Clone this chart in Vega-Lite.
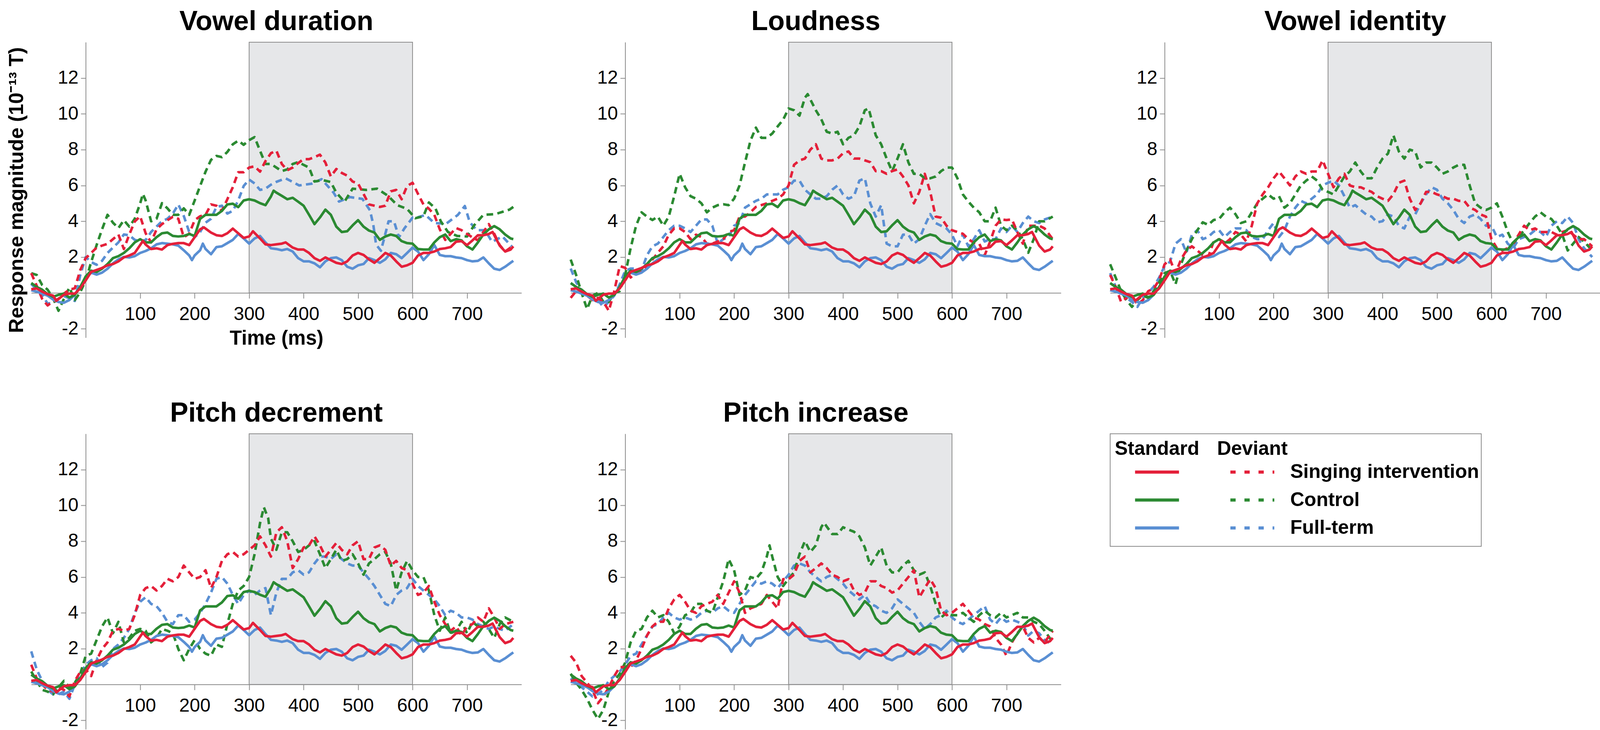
{
  "$schema": "https://vega.github.io/schema/vega-lite/v6.json",
  "background": "white",
  "padding": {"left": 16, "top": 21, "right": 0, "bottom": 0},
  "config": {
    "font": "Liberation Sans",
    "view": {"stroke": null},
    "axis": {
      "grid": false,
      "domainColor": "#8c8c8c",
      "domainWidth": 2,
      "tickColor": "#8c8c8c",
      "tickWidth": 2,
      "labelColor": "#000000",
      "labelFont": "Liberation Sans",
      "labelFontSize": 48,
      "labelExpr": "'' + datum.value",
      "titleColor": "#000000",
      "titleFont": "Liberation Sans",
      "titleFontSize": 51,
      "titleFontWeight": "bold"
    },
    "axisX": {"tickSize": 14, "labelPadding": 17},
    "axisY": {"tickSize": 12.6, "labelPadding": 6.3},
    "title": {"font": "Liberation Sans", "fontSize": 70, "fontWeight": "bold", "color": "#000000", "anchor": "middle", "frame": "group", "offset": 15},
    "line": {"strokeWidth": 6.5, "strokeJoin": "round"}
  },
  "datasets": {
    "std": [
      {"g":"F","t":-100,"v":0.15},{"g":"F","t":-90,"v":0.07},{"g":"F","t":-80,"v":-0.04},{"g":"F","t":-70,"v":-0.15},{"g":"F","t":-60,"v":-0.37},{"g":"F","t":-50,"v":-0.51},{"g":"F","t":-40,"v":-0.55},{"g":"F","t":-30,"v":-0.4},{"g":"F","t":-20,"v":-0.1},{"g":"F","t":-10,"v":0.33},{"g":"F","t":0,"v":0.84},{"g":"F","t":10,"v":1.13},{"g":"F","t":20,"v":1.02},{"g":"F","t":30,"v":1.13},{"g":"F","t":40,"v":1.35},{"g":"F","t":50,"v":1.65},{"g":"F","t":60,"v":1.87},{"g":"F","t":70,"v":2.01},{"g":"F","t":80,"v":1.98},{"g":"F","t":90,"v":2.05},{"g":"F","t":100,"v":2.23},{"g":"F","t":110,"v":2.34},{"g":"F","t":120,"v":2.49},{"g":"F","t":130,"v":2.71},{"g":"F","t":140,"v":2.78},{"g":"F","t":150,"v":2.75},{"g":"F","t":160,"v":2.71},{"g":"F","t":170,"v":2.64},{"g":"F","t":180,"v":2.38},{"g":"F","t":190,"v":2.09},{"g":"F","t":195,"v":1.83},{"g":"F","t":200,"v":2.09},{"g":"F","t":210,"v":2.38},{"g":"F","t":215,"v":2.75},{"g":"F","t":220,"v":2.45},{"g":"F","t":230,"v":2.16},{"g":"F","t":240,"v":2.56},{"g":"F","t":250,"v":2.6},{"g":"F","t":260,"v":2.78},{"g":"F","t":270,"v":2.96},{"g":"F","t":280,"v":3.29},{"g":"F","t":290,"v":3.04},{"g":"F","t":300,"v":2.75},{"g":"F","t":310,"v":3.04},{"g":"F","t":320,"v":3.18},{"g":"F","t":330,"v":2.82},{"g":"F","t":340,"v":2.49},{"g":"F","t":350,"v":2.45},{"g":"F","t":360,"v":2.38},{"g":"F","t":370,"v":2.45},{"g":"F","t":380,"v":2.31},{"g":"F","t":390,"v":1.94},{"g":"F","t":400,"v":1.76},{"g":"F","t":410,"v":1.76},{"g":"F","t":420,"v":1.65},{"g":"F","t":430,"v":1.43},{"g":"F","t":440,"v":1.76},{"g":"F","t":450,"v":1.94},{"g":"F","t":460,"v":1.98},{"g":"F","t":470,"v":1.83},{"g":"F","t":480,"v":1.46},{"g":"F","t":490,"v":1.35},{"g":"F","t":500,"v":1.54},{"g":"F","t":510,"v":1.61},{"g":"F","t":520,"v":1.94},{"g":"F","t":530,"v":1.83},{"g":"F","t":540,"v":1.68},{"g":"F","t":550,"v":1.87},{"g":"F","t":560,"v":2.23},{"g":"F","t":570,"v":2.16},{"g":"F","t":580,"v":1.94},{"g":"F","t":590,"v":2.23},{"g":"F","t":600,"v":2.53},{"g":"F","t":610,"v":2.31},{"g":"F","t":620,"v":1.83},{"g":"F","t":630,"v":2.16},{"g":"F","t":640,"v":2.67},{"g":"F","t":650,"v":2.12},{"g":"F","t":660,"v":2.05},{"g":"F","t":670,"v":2.05},{"g":"F","t":680,"v":1.98},{"g":"F","t":690,"v":1.94},{"g":"F","t":700,"v":1.83},{"g":"F","t":710,"v":1.76},{"g":"F","t":720,"v":1.79},{"g":"F","t":730,"v":1.98},{"g":"F","t":740,"v":1.65},{"g":"F","t":750,"v":1.35},{"g":"F","t":760,"v":1.28},{"g":"F","t":770,"v":1.46},{"g":"F","t":780,"v":1.68},{"g":"F","t":785,"v":1.79},
      {"g":"C","t":-100,"v":0.55},{"g":"C","t":-90,"v":0.33},{"g":"C","t":-80,"v":0.18},{"g":"C","t":-70,"v":-0.07},{"g":"C","t":-60,"v":-0.22},{"g":"C","t":-50,"v":-0.11},{"g":"C","t":-40,"v":-0.04},{"g":"C","t":-30,"v":-0.26},{"g":"C","t":-20,"v":-0.11},{"g":"C","t":-10,"v":0.33},{"g":"C","t":0,"v":0.92},{"g":"C","t":10,"v":1.24},{"g":"C","t":20,"v":1.17},{"g":"C","t":30,"v":1.35},{"g":"C","t":40,"v":1.61},{"g":"C","t":50,"v":1.94},{"g":"C","t":60,"v":2.05},{"g":"C","t":70,"v":2.23},{"g":"C","t":80,"v":2.49},{"g":"C","t":90,"v":2.82},{"g":"C","t":100,"v":3.0},{"g":"C","t":110,"v":2.82},{"g":"C","t":120,"v":2.82},{"g":"C","t":130,"v":3.11},{"g":"C","t":140,"v":3.33},{"g":"C","t":150,"v":3.37},{"g":"C","t":160,"v":3.18},{"g":"C","t":170,"v":3.15},{"g":"C","t":180,"v":3.18},{"g":"C","t":190,"v":3.29},{"g":"C","t":200,"v":3.18},{"g":"C","t":210,"v":4.14},{"g":"C","t":220,"v":4.36},{"g":"C","t":230,"v":4.36},{"g":"C","t":240,"v":4.36},{"g":"C","t":250,"v":4.58},{"g":"C","t":260,"v":4.94},{"g":"C","t":270,"v":4.98},{"g":"C","t":280,"v":4.79},{"g":"C","t":290,"v":5.16},{"g":"C","t":300,"v":5.23},{"g":"C","t":310,"v":5.16},{"g":"C","t":320,"v":5.01},{"g":"C","t":330,"v":4.9},{"g":"C","t":340,"v":5.38},{"g":"C","t":345,"v":5.71},{"g":"C","t":350,"v":5.6},{"g":"C","t":360,"v":5.42},{"g":"C","t":370,"v":5.23},{"g":"C","t":380,"v":5.31},{"g":"C","t":390,"v":5.09},{"g":"C","t":400,"v":4.87},{"g":"C","t":410,"v":4.36},{"g":"C","t":420,"v":3.84},{"g":"C","t":430,"v":4.21},{"g":"C","t":440,"v":4.65},{"g":"C","t":450,"v":4.36},{"g":"C","t":460,"v":3.7},{"g":"C","t":470,"v":3.4},{"g":"C","t":480,"v":3.44},{"g":"C","t":490,"v":3.77},{"g":"C","t":500,"v":4.06},{"g":"C","t":510,"v":3.7},{"g":"C","t":520,"v":3.48},{"g":"C","t":530,"v":3.37},{"g":"C","t":540,"v":2.96},{"g":"C","t":550,"v":3.15},{"g":"C","t":560,"v":3.26},{"g":"C","t":570,"v":3.18},{"g":"C","t":580,"v":2.89},{"g":"C","t":590,"v":2.78},{"g":"C","t":600,"v":2.75},{"g":"C","t":610,"v":2.45},{"g":"C","t":620,"v":2.42},{"g":"C","t":630,"v":2.42},{"g":"C","t":640,"v":2.82},{"g":"C","t":650,"v":3.11},{"g":"C","t":660,"v":3.26},{"g":"C","t":670,"v":2.89},{"g":"C","t":680,"v":3.0},{"g":"C","t":690,"v":2.93},{"g":"C","t":700,"v":2.6},{"g":"C","t":710,"v":2.42},{"g":"C","t":720,"v":2.82},{"g":"C","t":730,"v":3.26},{"g":"C","t":740,"v":3.55},{"g":"C","t":750,"v":3.73},{"g":"C","t":760,"v":3.55},{"g":"C","t":770,"v":3.26},{"g":"C","t":780,"v":3.04},{"g":"C","t":785,"v":3.0},
      {"g":"S","t":-100,"v":0.2},{"g":"S","t":-90,"v":0.25},{"g":"S","t":-80,"v":0.07},{"g":"S","t":-70,"v":-0.07},{"g":"S","t":-60,"v":-0.15},{"g":"S","t":-54,"v":-0.44},{"g":"S","t":-40,"v":-0.1},{"g":"S","t":-30,"v":-0.04},{"g":"S","t":-20,"v":-0.04},{"g":"S","t":-10,"v":0.25},{"g":"S","t":0,"v":0.7},{"g":"S","t":10,"v":1.17},{"g":"S","t":20,"v":1.28},{"g":"S","t":30,"v":1.39},{"g":"S","t":40,"v":1.54},{"g":"S","t":50,"v":1.61},{"g":"S","t":60,"v":1.76},{"g":"S","t":70,"v":1.98},{"g":"S","t":80,"v":2.09},{"g":"S","t":90,"v":2.23},{"g":"S","t":105,"v":2.9},{"g":"S","t":110,"v":2.7},{"g":"S","t":120,"v":2.45},{"g":"S","t":130,"v":2.49},{"g":"S","t":140,"v":2.42},{"g":"S","t":150,"v":2.67},{"g":"S","t":160,"v":2.74},{"g":"S","t":170,"v":2.78},{"g":"S","t":180,"v":2.78},{"g":"S","t":190,"v":2.67},{"g":"S","t":200,"v":3.11},{"g":"S","t":210,"v":3.55},{"g":"S","t":217,"v":3.66},{"g":"S","t":230,"v":3.37},{"g":"S","t":240,"v":3.22},{"g":"S","t":250,"v":3.18},{"g":"S","t":260,"v":3.33},{"g":"S","t":270,"v":3.59},{"g":"S","t":280,"v":3.33},{"g":"S","t":290,"v":3.07},{"g":"S","t":300,"v":3.15},{"g":"S","t":307,"v":3.44},{"g":"S","t":320,"v":3.04},{"g":"S","t":330,"v":2.71},{"g":"S","t":340,"v":2.67},{"g":"S","t":350,"v":2.71},{"g":"S","t":360,"v":2.75},{"g":"S","t":367,"v":2.82},{"g":"S","t":380,"v":2.53},{"g":"S","t":390,"v":2.42},{"g":"S","t":400,"v":2.42},{"g":"S","t":410,"v":2.23},{"g":"S","t":420,"v":1.94},{"g":"S","t":430,"v":1.79},{"g":"S","t":440,"v":1.98},{"g":"S","t":450,"v":1.83},{"g":"S","t":460,"v":1.68},{"g":"S","t":470,"v":1.61},{"g":"S","t":480,"v":1.76},{"g":"S","t":490,"v":2.09},{"g":"S","t":500,"v":2.23},{"g":"S","t":510,"v":2.12},{"g":"S","t":520,"v":1.87},{"g":"S","t":530,"v":1.68},{"g":"S","t":540,"v":1.94},{"g":"S","t":550,"v":2.23},{"g":"S","t":560,"v":2.09},{"g":"S","t":570,"v":1.76},{"g":"S","t":580,"v":1.46},{"g":"S","t":590,"v":1.54},{"g":"S","t":600,"v":1.68},{"g":"S","t":610,"v":2.09},{"g":"S","t":620,"v":2.23},{"g":"S","t":630,"v":2.23},{"g":"S","t":640,"v":2.31},{"g":"S","t":650,"v":2.45},{"g":"S","t":660,"v":2.49},{"g":"S","t":670,"v":2.56},{"g":"S","t":680,"v":2.86},{"g":"S","t":690,"v":2.89},{"g":"S","t":700,"v":2.67},{"g":"S","t":710,"v":2.93},{"g":"S","t":720,"v":3.22},{"g":"S","t":730,"v":3.22},{"g":"S","t":740,"v":3.29},{"g":"S","t":747,"v":3.4},{"g":"S","t":760,"v":2.64},{"g":"S","t":770,"v":2.31},{"g":"S","t":780,"v":2.42},{"g":"S","t":785,"v":2.6}
    ],
    "dev": [
      {"p":"VD","g":"F","t":-100,"v":0.5},{"p":"VD","g":"F","t":-90,"v":0.18},{"p":"VD","g":"F","t":-80,"v":-0.1},{"p":"VD","g":"F","t":-70,"v":-0.6},{"p":"VD","g":"F","t":-60,"v":-0.55},{"p":"VD","g":"F","t":-50,"v":-0.33},{"p":"VD","g":"F","t":-40,"v":-0.18},{"p":"VD","g":"F","t":-30,"v":-0.3},{"p":"VD","g":"F","t":-20,"v":-0.45},{"p":"VD","g":"F","t":-10,"v":1.0},{"p":"VD","g":"F","t":0,"v":2.0},{"p":"VD","g":"F","t":10,"v":1.72},{"p":"VD","g":"F","t":20,"v":1.57},{"p":"VD","g":"F","t":30,"v":1.79},{"p":"VD","g":"F","t":40,"v":2.23},{"p":"VD","g":"F","t":50,"v":2.53},{"p":"VD","g":"F","t":60,"v":2.82},{"p":"VD","g":"F","t":70,"v":3.26},{"p":"VD","g":"F","t":80,"v":3.22},{"p":"VD","g":"F","t":90,"v":2.96},{"p":"VD","g":"F","t":100,"v":2.89},{"p":"VD","g":"F","t":110,"v":2.95},{"p":"VD","g":"F","t":120,"v":3.4},{"p":"VD","g":"F","t":130,"v":3.7},{"p":"VD","g":"F","t":140,"v":4.0},{"p":"VD","g":"F","t":150,"v":4.14},{"p":"VD","g":"F","t":160,"v":4.43},{"p":"VD","g":"F","t":170,"v":4.94},{"p":"VD","g":"F","t":180,"v":4.3},{"p":"VD","g":"F","t":190,"v":3.4},{"p":"VD","g":"F","t":200,"v":3.11},{"p":"VD","g":"F","t":210,"v":3.4},{"p":"VD","g":"F","t":220,"v":3.92},{"p":"VD","g":"F","t":230,"v":4.14},{"p":"VD","g":"F","t":240,"v":4.8},{"p":"VD","g":"F","t":250,"v":4.87},{"p":"VD","g":"F","t":260,"v":4.43},{"p":"VD","g":"F","t":270,"v":4.58},{"p":"VD","g":"F","t":280,"v":5.16},{"p":"VD","g":"F","t":290,"v":5.97},{"p":"VD","g":"F","t":300,"v":6.33},{"p":"VD","g":"F","t":310,"v":6.11},{"p":"VD","g":"F","t":320,"v":5.75},{"p":"VD","g":"F","t":330,"v":5.82},{"p":"VD","g":"F","t":340,"v":6.04},{"p":"VD","g":"F","t":350,"v":6.2},{"p":"VD","g":"F","t":367,"v":6.4},{"p":"VD","g":"F","t":392,"v":6.0},{"p":"VD","g":"F","t":415,"v":6.1},{"p":"VD","g":"F","t":433,"v":6.35},{"p":"VD","g":"F","t":455,"v":5.6},{"p":"VD","g":"F","t":465,"v":5.1},{"p":"VD","g":"F","t":485,"v":5.35},{"p":"VD","g":"F","t":508,"v":5.25},{"p":"VD","g":"F","t":522,"v":4.6},{"p":"VD","g":"F","t":528,"v":3.8},{"p":"VD","g":"F","t":533,"v":2.7},{"p":"VD","g":"F","t":542,"v":2.35},{"p":"VD","g":"F","t":556,"v":4.0},{"p":"VD","g":"F","t":566,"v":4.0},{"p":"VD","g":"F","t":575,"v":3.1},{"p":"VD","g":"F","t":585,"v":3.6},{"p":"VD","g":"F","t":600,"v":4.2},{"p":"VD","g":"F","t":607,"v":4.2},{"p":"VD","g":"F","t":624,"v":4.35},{"p":"VD","g":"F","t":640,"v":3.9},{"p":"VD","g":"F","t":662,"v":3.87},{"p":"VD","g":"F","t":683,"v":4.35},{"p":"VD","g":"F","t":696,"v":4.85},{"p":"VD","g":"F","t":705,"v":3.95},{"p":"VD","g":"F","t":718,"v":3.5},{"p":"VD","g":"F","t":733,"v":3.5},{"p":"VD","g":"F","t":746,"v":2.85},{"p":"VD","g":"F","t":765,"v":3.15},{"p":"VD","g":"F","t":782,"v":2.6},
      {"p":"VD","g":"C","t":-100,"v":1.1},{"p":"VD","g":"C","t":-90,"v":1.0},{"p":"VD","g":"C","t":-80,"v":0.44},{"p":"VD","g":"C","t":-70,"v":0.18},{"p":"VD","g":"C","t":-60,"v":-0.29},{"p":"VD","g":"C","t":-50,"v":-1.0},{"p":"VD","g":"C","t":-40,"v":-0.33},{"p":"VD","g":"C","t":-30,"v":0.3},{"p":"VD","g":"C","t":-20,"v":-0.4},{"p":"VD","g":"C","t":-10,"v":0.04},{"p":"VD","g":"C","t":0,"v":0.7},{"p":"VD","g":"C","t":10,"v":1.72},{"p":"VD","g":"C","t":20,"v":2.67},{"p":"VD","g":"C","t":30,"v":3.55},{"p":"VD","g":"C","t":40,"v":4.36},{"p":"VD","g":"C","t":50,"v":3.92},{"p":"VD","g":"C","t":60,"v":3.62},{"p":"VD","g":"C","t":70,"v":4.06},{"p":"VD","g":"C","t":80,"v":3.7},{"p":"VD","g":"C","t":90,"v":4.14},{"p":"VD","g":"C","t":100,"v":5.0},{"p":"VD","g":"C","t":105,"v":5.53},{"p":"VD","g":"C","t":110,"v":5.16},{"p":"VD","g":"C","t":120,"v":4.0},{"p":"VD","g":"C","t":130,"v":4.14},{"p":"VD","g":"C","t":140,"v":5.01},{"p":"VD","g":"C","t":150,"v":4.72},{"p":"VD","g":"C","t":160,"v":4.36},{"p":"VD","g":"C","t":170,"v":4.36},{"p":"VD","g":"C","t":180,"v":4.72},{"p":"VD","g":"C","t":190,"v":4.36},{"p":"VD","g":"C","t":200,"v":5.16},{"p":"VD","g":"C","t":210,"v":5.97},{"p":"VD","g":"C","t":220,"v":6.77},{"p":"VD","g":"C","t":230,"v":7.43},{"p":"VD","g":"C","t":240,"v":7.65},{"p":"VD","g":"C","t":250,"v":7.58},{"p":"VD","g":"C","t":260,"v":7.87},{"p":"VD","g":"C","t":270,"v":8.3},{"p":"VD","g":"C","t":280,"v":8.5},{"p":"VD","g":"C","t":290,"v":8.27},{"p":"VD","g":"C","t":300,"v":8.53},{"p":"VD","g":"C","t":310,"v":8.7},{"p":"VD","g":"C","t":320,"v":7.94},{"p":"VD","g":"C","t":330,"v":7.2},{"p":"VD","g":"C","t":340,"v":7.2},{"p":"VD","g":"C","t":350,"v":7.0},{"p":"VD","g":"C","t":360,"v":6.8},{"p":"VD","g":"C","t":370,"v":6.9},{"p":"VD","g":"C","t":380,"v":7.2},{"p":"VD","g":"C","t":390,"v":7.3},{"p":"VD","g":"C","t":400,"v":7.15},{"p":"VD","g":"C","t":410,"v":7.0},{"p":"VD","g":"C","t":420,"v":6.22},{"p":"VD","g":"C","t":435,"v":6.3},{"p":"VD","g":"C","t":450,"v":6.19},{"p":"VD","g":"C","t":460,"v":5.6},{"p":"VD","g":"C","t":475,"v":5.09},{"p":"VD","g":"C","t":490,"v":5.82},{"p":"VD","g":"C","t":515,"v":5.75},{"p":"VD","g":"C","t":535,"v":5.82},{"p":"VD","g":"C","t":555,"v":5.42},{"p":"VD","g":"C","t":572,"v":4.9},{"p":"VD","g":"C","t":590,"v":4.69},{"p":"VD","g":"C","t":605,"v":4.17},{"p":"VD","g":"C","t":620,"v":4.28},{"p":"VD","g":"C","t":630,"v":5.05},{"p":"VD","g":"C","t":642,"v":4.72},{"p":"VD","g":"C","t":652,"v":3.99},{"p":"VD","g":"C","t":665,"v":3.4},{"p":"VD","g":"C","t":682,"v":3.18},{"p":"VD","g":"C","t":700,"v":3.15},{"p":"VD","g":"C","t":713,"v":3.77},{"p":"VD","g":"C","t":730,"v":4.36},{"p":"VD","g":"C","t":752,"v":4.4},{"p":"VD","g":"C","t":778,"v":4.65},{"p":"VD","g":"C","t":785,"v":4.8},
      {"p":"VD","g":"S","t":-100,"v":1.1},{"p":"VD","g":"S","t":-90,"v":0.4},{"p":"VD","g":"S","t":-80,"v":-0.33},{"p":"VD","g":"S","t":-70,"v":-0.7},{"p":"VD","g":"S","t":-60,"v":-0.48},{"p":"VD","g":"S","t":-50,"v":-0.33},{"p":"VD","g":"S","t":-40,"v":-0.04},{"p":"VD","g":"S","t":-30,"v":0.18},{"p":"VD","g":"S","t":-20,"v":0.26},{"p":"VD","g":"S","t":-10,"v":1.28},{"p":"VD","g":"S","t":0,"v":1.94},{"p":"VD","g":"S","t":10,"v":2.23},{"p":"VD","g":"S","t":20,"v":2.53},{"p":"VD","g":"S","t":30,"v":2.64},{"p":"VD","g":"S","t":40,"v":2.74},{"p":"VD","g":"S","t":50,"v":3.0},{"p":"VD","g":"S","t":60,"v":3.26},{"p":"VD","g":"S","t":70,"v":2.45},{"p":"VD","g":"S","t":80,"v":3.26},{"p":"VD","g":"S","t":90,"v":3.99},{"p":"VD","g":"S","t":100,"v":4.28},{"p":"VD","g":"S","t":110,"v":3.33},{"p":"VD","g":"S","t":120,"v":2.82},{"p":"VD","g":"S","t":130,"v":3.55},{"p":"VD","g":"S","t":140,"v":3.84},{"p":"VD","g":"S","t":150,"v":4.06},{"p":"VD","g":"S","t":160,"v":4.25},{"p":"VD","g":"S","t":170,"v":4.14},{"p":"VD","g":"S","t":180,"v":3.11},{"p":"VD","g":"S","t":190,"v":3.3},{"p":"VD","g":"S","t":200,"v":4.06},{"p":"VD","g":"S","t":210,"v":4.28},{"p":"VD","g":"S","t":220,"v":4.36},{"p":"VD","g":"S","t":230,"v":4.94},{"p":"VD","g":"S","t":240,"v":4.87},{"p":"VD","g":"S","t":250,"v":4.58},{"p":"VD","g":"S","t":260,"v":5.23},{"p":"VD","g":"S","t":270,"v":5.9},{"p":"VD","g":"S","t":280,"v":6.74},{"p":"VD","g":"S","t":290,"v":6.74},{"p":"VD","g":"S","t":300,"v":7.0},{"p":"VD","g":"S","t":310,"v":7.07},{"p":"VD","g":"S","t":320,"v":6.77},{"p":"VD","g":"S","t":330,"v":7.36},{"p":"VD","g":"S","t":340,"v":7.8},{"p":"VD","g":"S","t":350,"v":7.94},{"p":"VD","g":"S","t":360,"v":7.2},{"p":"VD","g":"S","t":370,"v":6.85},{"p":"VD","g":"S","t":380,"v":7.0},{"p":"VD","g":"S","t":390,"v":7.25},{"p":"VD","g":"S","t":400,"v":7.47},{"p":"VD","g":"S","t":410,"v":7.47},{"p":"VD","g":"S","t":420,"v":7.58},{"p":"VD","g":"S","t":430,"v":7.72},{"p":"VD","g":"S","t":440,"v":7.28},{"p":"VD","g":"S","t":450,"v":6.5},{"p":"VD","g":"S","t":460,"v":6.92},{"p":"VD","g":"S","t":470,"v":6.7},{"p":"VD","g":"S","t":480,"v":6.55},{"p":"VD","g":"S","t":490,"v":6.22},{"p":"VD","g":"S","t":500,"v":6.11},{"p":"VD","g":"S","t":510,"v":5.53},{"p":"VD","g":"S","t":520,"v":4.94},{"p":"VD","g":"S","t":530,"v":4.87},{"p":"VD","g":"S","t":540,"v":4.8},{"p":"VD","g":"S","t":550,"v":4.87},{"p":"VD","g":"S","t":560,"v":5.67},{"p":"VD","g":"S","t":570,"v":5.75},{"p":"VD","g":"S","t":580,"v":5.23},{"p":"VD","g":"S","t":590,"v":5.97},{"p":"VD","g":"S","t":600,"v":6.15},{"p":"VD","g":"S","t":610,"v":5.53},{"p":"VD","g":"S","t":620,"v":4.94},{"p":"VD","g":"S","t":630,"v":4.7},{"p":"VD","g":"S","t":640,"v":4.36},{"p":"VD","g":"S","t":650,"v":3.55},{"p":"VD","g":"S","t":660,"v":2.96},{"p":"VD","g":"S","t":670,"v":3.3},{"p":"VD","g":"S","t":680,"v":3.62},{"p":"VD","g":"S","t":690,"v":3.5},{"p":"VD","g":"S","t":700,"v":3.29},{"p":"VD","g":"S","t":710,"v":3.1},{"p":"VD","g":"S","t":720,"v":2.93},{"p":"VD","g":"S","t":730,"v":3.4},{"p":"VD","g":"S","t":740,"v":3.84},{"p":"VD","g":"S","t":750,"v":3.3},{"p":"VD","g":"S","t":760,"v":2.67},{"p":"VD","g":"S","t":770,"v":2.31},{"p":"VD","g":"S","t":780,"v":2.53},{"p":"VD","g":"S","t":785,"v":2.6},

      {"p":"LO","g":"F","t":-100,"v":1.36},{"p":"LO","g":"F","t":-90,"v":0.6},{"p":"LO","g":"F","t":-80,"v":0.1},{"p":"LO","g":"F","t":-70,"v":-0.15},{"p":"LO","g":"F","t":-60,"v":-0.28},{"p":"LO","g":"F","t":-50,"v":-0.4},{"p":"LO","g":"F","t":-40,"v":-0.8},{"p":"LO","g":"F","t":-30,"v":-0.5},{"p":"LO","g":"F","t":-20,"v":-0.15},{"p":"LO","g":"F","t":-10,"v":0.48},{"p":"LO","g":"F","t":0,"v":1.23},{"p":"LO","g":"F","t":10,"v":1.36},{"p":"LO","g":"F","t":20,"v":1.36},{"p":"LO","g":"F","t":30,"v":1.23},{"p":"LO","g":"F","t":40,"v":2.1},{"p":"LO","g":"F","t":50,"v":2.6},{"p":"LO","g":"F","t":60,"v":2.75},{"p":"LO","g":"F","t":70,"v":3.12},{"p":"LO","g":"F","t":80,"v":3.5},{"p":"LO","g":"F","t":90,"v":3.75},{"p":"LO","g":"F","t":100,"v":3.75},{"p":"LO","g":"F","t":110,"v":3.6},{"p":"LO","g":"F","t":120,"v":3.4},{"p":"LO","g":"F","t":130,"v":3.75},{"p":"LO","g":"F","t":140,"v":4.1},{"p":"LO","g":"F","t":150,"v":4.1},{"p":"LO","g":"F","t":160,"v":3.75},{"p":"LO","g":"F","t":170,"v":2.75},{"p":"LO","g":"F","t":180,"v":3.0},{"p":"LO","g":"F","t":190,"v":3.12},{"p":"LO","g":"F","t":200,"v":3.75},{"p":"LO","g":"F","t":210,"v":3.9},{"p":"LO","g":"F","t":220,"v":4.76},{"p":"LO","g":"F","t":230,"v":4.95},{"p":"LO","g":"F","t":240,"v":5.14},{"p":"LO","g":"F","t":250,"v":5.26},{"p":"LO","g":"F","t":260,"v":5.5},{"p":"LO","g":"F","t":270,"v":5.5},{"p":"LO","g":"F","t":280,"v":5.5},{"p":"LO","g":"F","t":290,"v":5.76},{"p":"LO","g":"F","t":300,"v":5.9},{"p":"LO","g":"F","t":310,"v":6.27},{"p":"LO","g":"F","t":320,"v":6.27},{"p":"LO","g":"F","t":330,"v":5.76},{"p":"LO","g":"F","t":340,"v":5.5},{"p":"LO","g":"F","t":350,"v":5.26},{"p":"LO","g":"F","t":360,"v":5.26},{"p":"LO","g":"F","t":370,"v":5.4},{"p":"LO","g":"F","t":380,"v":5.76},{"p":"LO","g":"F","t":390,"v":6.0},{"p":"LO","g":"F","t":400,"v":5.5},{"p":"LO","g":"F","t":410,"v":5.26},{"p":"LO","g":"F","t":420,"v":5.4},{"p":"LO","g":"F","t":430,"v":6.27},{"p":"LO","g":"F","t":440,"v":6.4},{"p":"LO","g":"F","t":450,"v":5.0},{"p":"LO","g":"F","t":460,"v":4.26},{"p":"LO","g":"F","t":470,"v":4.9},{"p":"LO","g":"F","t":480,"v":2.75},{"p":"LO","g":"F","t":490,"v":2.6},{"p":"LO","g":"F","t":500,"v":2.6},{"p":"LO","g":"F","t":510,"v":3.25},{"p":"LO","g":"F","t":520,"v":3.25},{"p":"LO","g":"F","t":530,"v":2.75},{"p":"LO","g":"F","t":540,"v":3.0},{"p":"LO","g":"F","t":550,"v":3.75},{"p":"LO","g":"F","t":560,"v":4.4},{"p":"LO","g":"F","t":570,"v":3.9},{"p":"LO","g":"F","t":580,"v":3.75},{"p":"LO","g":"F","t":590,"v":3.6},{"p":"LO","g":"F","t":600,"v":3.25},{"p":"LO","g":"F","t":610,"v":2.6},{"p":"LO","g":"F","t":620,"v":3.25},{"p":"LO","g":"F","t":630,"v":2.6},{"p":"LO","g":"F","t":640,"v":3.0},{"p":"LO","g":"F","t":650,"v":3.5},{"p":"LO","g":"F","t":660,"v":2.87},{"p":"LO","g":"F","t":670,"v":3.0},{"p":"LO","g":"F","t":680,"v":3.0},{"p":"LO","g":"F","t":690,"v":3.6},{"p":"LO","g":"F","t":700,"v":3.4},{"p":"LO","g":"F","t":710,"v":3.75},{"p":"LO","g":"F","t":720,"v":3.4},{"p":"LO","g":"F","t":730,"v":3.9},{"p":"LO","g":"F","t":740,"v":4.26},{"p":"LO","g":"F","t":750,"v":4.0},{"p":"LO","g":"F","t":760,"v":3.9},{"p":"LO","g":"F","t":770,"v":4.1},{"p":"LO","g":"F","t":785,"v":4.26},
      {"p":"LO","g":"C","t":-100,"v":1.86},{"p":"LO","g":"C","t":-90,"v":1.0},{"p":"LO","g":"C","t":-80,"v":0.0},{"p":"LO","g":"C","t":-70,"v":-0.9},{"p":"LO","g":"C","t":-60,"v":-0.15},{"p":"LO","g":"C","t":-50,"v":0.0},{"p":"LO","g":"C","t":-40,"v":-0.5},{"p":"LO","g":"C","t":-30,"v":-0.5},{"p":"LO","g":"C","t":-20,"v":0.0},{"p":"LO","g":"C","t":-10,"v":0.1},{"p":"LO","g":"C","t":0,"v":1.0},{"p":"LO","g":"C","t":10,"v":2.5},{"p":"LO","g":"C","t":20,"v":3.75},{"p":"LO","g":"C","t":30,"v":4.5},{"p":"LO","g":"C","t":40,"v":4.26},{"p":"LO","g":"C","t":50,"v":4.07},{"p":"LO","g":"C","t":60,"v":4.26},{"p":"LO","g":"C","t":70,"v":3.75},{"p":"LO","g":"C","t":80,"v":4.26},{"p":"LO","g":"C","t":90,"v":5.4},{"p":"LO","g":"C","t":100,"v":6.65},{"p":"LO","g":"C","t":110,"v":5.9},{"p":"LO","g":"C","t":120,"v":5.4},{"p":"LO","g":"C","t":130,"v":5.26},{"p":"LO","g":"C","t":140,"v":5.0},{"p":"LO","g":"C","t":150,"v":4.5},{"p":"LO","g":"C","t":160,"v":4.76},{"p":"LO","g":"C","t":170,"v":4.9},{"p":"LO","g":"C","t":180,"v":4.95},{"p":"LO","g":"C","t":190,"v":4.9},{"p":"LO","g":"C","t":200,"v":5.26},{"p":"LO","g":"C","t":210,"v":6.0},{"p":"LO","g":"C","t":220,"v":7.28},{"p":"LO","g":"C","t":230,"v":8.5},{"p":"LO","g":"C","t":240,"v":9.23},{"p":"LO","g":"C","t":250,"v":8.66},{"p":"LO","g":"C","t":260,"v":8.66},{"p":"LO","g":"C","t":270,"v":8.9},{"p":"LO","g":"C","t":280,"v":9.3},{"p":"LO","g":"C","t":290,"v":9.67},{"p":"LO","g":"C","t":300,"v":10.3},{"p":"LO","g":"C","t":310,"v":10.2},{"p":"LO","g":"C","t":320,"v":9.9},{"p":"LO","g":"C","t":330,"v":10.9},{"p":"LO","g":"C","t":335,"v":11.1},{"p":"LO","g":"C","t":340,"v":10.8},{"p":"LO","g":"C","t":350,"v":10.2},{"p":"LO","g":"C","t":360,"v":9.7},{"p":"LO","g":"C","t":370,"v":9.0},{"p":"LO","g":"C","t":380,"v":8.9},{"p":"LO","g":"C","t":390,"v":9.0},{"p":"LO","g":"C","t":400,"v":8.3},{"p":"LO","g":"C","t":410,"v":8.66},{"p":"LO","g":"C","t":420,"v":8.8},{"p":"LO","g":"C","t":430,"v":9.3},{"p":"LO","g":"C","t":440,"v":10.2},{"p":"LO","g":"C","t":447,"v":10.3},{"p":"LO","g":"C","t":460,"v":8.8},{"p":"LO","g":"C","t":470,"v":8.3},{"p":"LO","g":"C","t":480,"v":7.5},{"p":"LO","g":"C","t":490,"v":6.8},{"p":"LO","g":"C","t":500,"v":7.5},{"p":"LO","g":"C","t":510,"v":8.3},{"p":"LO","g":"C","t":520,"v":7.28},{"p":"LO","g":"C","t":530,"v":6.65},{"p":"LO","g":"C","t":540,"v":6.65},{"p":"LO","g":"C","t":550,"v":6.4},{"p":"LO","g":"C","t":560,"v":6.4},{"p":"LO","g":"C","t":570,"v":6.5},{"p":"LO","g":"C","t":580,"v":6.8},{"p":"LO","g":"C","t":590,"v":7.0},{"p":"LO","g":"C","t":600,"v":7.0},{"p":"LO","g":"C","t":610,"v":6.4},{"p":"LO","g":"C","t":620,"v":5.5},{"p":"LO","g":"C","t":630,"v":5.1},{"p":"LO","g":"C","t":640,"v":4.76},{"p":"LO","g":"C","t":650,"v":4.5},{"p":"LO","g":"C","t":660,"v":4.0},{"p":"LO","g":"C","t":670,"v":4.0},{"p":"LO","g":"C","t":680,"v":4.76},{"p":"LO","g":"C","t":690,"v":3.75},{"p":"LO","g":"C","t":700,"v":3.5},{"p":"LO","g":"C","t":710,"v":3.75},{"p":"LO","g":"C","t":720,"v":3.5},{"p":"LO","g":"C","t":730,"v":3.0},{"p":"LO","g":"C","t":740,"v":2.24},{"p":"LO","g":"C","t":750,"v":3.0},{"p":"LO","g":"C","t":760,"v":4.0},{"p":"LO","g":"C","t":770,"v":4.0},{"p":"LO","g":"C","t":785,"v":4.26},
      {"p":"LO","g":"S","t":-100,"v":-0.28},{"p":"LO","g":"S","t":-90,"v":0.1},{"p":"LO","g":"S","t":-80,"v":0.1},{"p":"LO","g":"S","t":-70,"v":-0.15},{"p":"LO","g":"S","t":-60,"v":-0.4},{"p":"LO","g":"S","t":-50,"v":-0.28},{"p":"LO","g":"S","t":-40,"v":-0.5},{"p":"LO","g":"S","t":-30,"v":-1.0},{"p":"LO","g":"S","t":-20,"v":0.1},{"p":"LO","g":"S","t":-10,"v":1.5},{"p":"LO","g":"S","t":0,"v":1.4},{"p":"LO","g":"S","t":10,"v":0.86},{"p":"LO","g":"S","t":20,"v":1.1},{"p":"LO","g":"S","t":30,"v":1.23},{"p":"LO","g":"S","t":40,"v":1.5},{"p":"LO","g":"S","t":50,"v":1.86},{"p":"LO","g":"S","t":60,"v":2.24},{"p":"LO","g":"S","t":70,"v":2.6},{"p":"LO","g":"S","t":80,"v":3.25},{"p":"LO","g":"S","t":90,"v":3.6},{"p":"LO","g":"S","t":100,"v":3.6},{"p":"LO","g":"S","t":110,"v":3.4},{"p":"LO","g":"S","t":120,"v":3.0},{"p":"LO","g":"S","t":130,"v":3.25},{"p":"LO","g":"S","t":140,"v":3.12},{"p":"LO","g":"S","t":150,"v":2.75},{"p":"LO","g":"S","t":160,"v":2.75},{"p":"LO","g":"S","t":170,"v":2.87},{"p":"LO","g":"S","t":180,"v":3.0},{"p":"LO","g":"S","t":190,"v":3.4},{"p":"LO","g":"S","t":200,"v":3.5},{"p":"LO","g":"S","t":210,"v":4.26},{"p":"LO","g":"S","t":220,"v":4.26},{"p":"LO","g":"S","t":230,"v":4.5},{"p":"LO","g":"S","t":240,"v":4.8},{"p":"LO","g":"S","t":250,"v":4.9},{"p":"LO","g":"S","t":260,"v":5.0},{"p":"LO","g":"S","t":270,"v":5.14},{"p":"LO","g":"S","t":280,"v":5.26},{"p":"LO","g":"S","t":290,"v":5.5},{"p":"LO","g":"S","t":300,"v":6.0},{"p":"LO","g":"S","t":310,"v":7.15},{"p":"LO","g":"S","t":320,"v":7.4},{"p":"LO","g":"S","t":330,"v":7.5},{"p":"LO","g":"S","t":340,"v":8.0},{"p":"LO","g":"S","t":350,"v":8.3},{"p":"LO","g":"S","t":360,"v":7.5},{"p":"LO","g":"S","t":370,"v":7.4},{"p":"LO","g":"S","t":380,"v":7.4},{"p":"LO","g":"S","t":390,"v":7.5},{"p":"LO","g":"S","t":400,"v":7.8},{"p":"LO","g":"S","t":410,"v":7.9},{"p":"LO","g":"S","t":420,"v":7.5},{"p":"LO","g":"S","t":430,"v":7.5},{"p":"LO","g":"S","t":440,"v":7.4},{"p":"LO","g":"S","t":450,"v":7.3},{"p":"LO","g":"S","t":460,"v":6.8},{"p":"LO","g":"S","t":470,"v":6.8},{"p":"LO","g":"S","t":480,"v":6.65},{"p":"LO","g":"S","t":490,"v":6.8},{"p":"LO","g":"S","t":500,"v":6.9},{"p":"LO","g":"S","t":510,"v":6.5},{"p":"LO","g":"S","t":520,"v":6.0},{"p":"LO","g":"S","t":530,"v":5.0},{"p":"LO","g":"S","t":540,"v":5.64},{"p":"LO","g":"S","t":550,"v":6.65},{"p":"LO","g":"S","t":560,"v":5.64},{"p":"LO","g":"S","t":570,"v":4.26},{"p":"LO","g":"S","t":580,"v":4.2},{"p":"LO","g":"S","t":590,"v":3.75},{"p":"LO","g":"S","t":600,"v":3.5},{"p":"LO","g":"S","t":610,"v":3.4},{"p":"LO","g":"S","t":620,"v":3.3},{"p":"LO","g":"S","t":630,"v":3.0},{"p":"LO","g":"S","t":640,"v":2.8},{"p":"LO","g":"S","t":650,"v":2.75},{"p":"LO","g":"S","t":660,"v":2.1},{"p":"LO","g":"S","t":670,"v":2.87},{"p":"LO","g":"S","t":680,"v":3.75},{"p":"LO","g":"S","t":690,"v":4.1},{"p":"LO","g":"S","t":700,"v":4.07},{"p":"LO","g":"S","t":710,"v":4.1},{"p":"LO","g":"S","t":720,"v":3.4},{"p":"LO","g":"S","t":730,"v":2.75},{"p":"LO","g":"S","t":740,"v":3.75},{"p":"LO","g":"S","t":750,"v":3.75},{"p":"LO","g":"S","t":760,"v":3.75},{"p":"LO","g":"S","t":770,"v":3.6},{"p":"LO","g":"S","t":785,"v":3.0},

      {"p":"VI","g":"F","t":-100,"v":1.1},{"p":"VI","g":"F","t":-90,"v":0.35},{"p":"VI","g":"F","t":-80,"v":0.0},{"p":"VI","g":"F","t":-70,"v":-0.28},{"p":"VI","g":"F","t":-60,"v":-0.5},{"p":"VI","g":"F","t":-50,"v":-0.78},{"p":"VI","g":"F","t":-40,"v":-0.28},{"p":"VI","g":"F","t":-30,"v":0.0},{"p":"VI","g":"F","t":-20,"v":0.35},{"p":"VI","g":"F","t":-10,"v":0.86},{"p":"VI","g":"F","t":0,"v":1.5},{"p":"VI","g":"F","t":10,"v":1.74},{"p":"VI","g":"F","t":20,"v":2.75},{"p":"VI","g":"F","t":30,"v":3.0},{"p":"VI","g":"F","t":40,"v":2.24},{"p":"VI","g":"F","t":50,"v":3.25},{"p":"VI","g":"F","t":60,"v":3.5},{"p":"VI","g":"F","t":70,"v":3.0},{"p":"VI","g":"F","t":80,"v":3.12},{"p":"VI","g":"F","t":90,"v":3.4},{"p":"VI","g":"F","t":100,"v":3.5},{"p":"VI","g":"F","t":110,"v":3.12},{"p":"VI","g":"F","t":120,"v":3.4},{"p":"VI","g":"F","t":130,"v":3.6},{"p":"VI","g":"F","t":140,"v":3.6},{"p":"VI","g":"F","t":150,"v":3.5},{"p":"VI","g":"F","t":160,"v":3.12},{"p":"VI","g":"F","t":170,"v":3.0},{"p":"VI","g":"F","t":180,"v":3.0},{"p":"VI","g":"F","t":190,"v":3.5},{"p":"VI","g":"F","t":200,"v":3.9},{"p":"VI","g":"F","t":210,"v":3.12},{"p":"VI","g":"F","t":220,"v":3.5},{"p":"VI","g":"F","t":230,"v":4.26},{"p":"VI","g":"F","t":240,"v":4.76},{"p":"VI","g":"F","t":250,"v":5.14},{"p":"VI","g":"F","t":260,"v":5.0},{"p":"VI","g":"F","t":270,"v":5.26},{"p":"VI","g":"F","t":280,"v":5.5},{"p":"VI","g":"F","t":290,"v":6.0},{"p":"VI","g":"F","t":300,"v":6.15},{"p":"VI","g":"F","t":310,"v":6.27},{"p":"VI","g":"F","t":320,"v":6.0},{"p":"VI","g":"F","t":330,"v":5.4},{"p":"VI","g":"F","t":340,"v":4.76},{"p":"VI","g":"F","t":350,"v":4.9},{"p":"VI","g":"F","t":360,"v":4.63},{"p":"VI","g":"F","t":370,"v":4.38},{"p":"VI","g":"F","t":380,"v":4.26},{"p":"VI","g":"F","t":390,"v":3.94},{"p":"VI","g":"F","t":400,"v":4.0},{"p":"VI","g":"F","t":410,"v":4.38},{"p":"VI","g":"F","t":420,"v":4.26},{"p":"VI","g":"F","t":430,"v":3.75},{"p":"VI","g":"F","t":440,"v":3.6},{"p":"VI","g":"F","t":450,"v":4.26},{"p":"VI","g":"F","t":460,"v":4.38},{"p":"VI","g":"F","t":470,"v":5.0},{"p":"VI","g":"F","t":480,"v":5.5},{"p":"VI","g":"F","t":490,"v":5.9},{"p":"VI","g":"F","t":500,"v":5.76},{"p":"VI","g":"F","t":510,"v":5.26},{"p":"VI","g":"F","t":520,"v":5.0},{"p":"VI","g":"F","t":530,"v":4.63},{"p":"VI","g":"F","t":540,"v":4.13},{"p":"VI","g":"F","t":550,"v":3.9},{"p":"VI","g":"F","t":560,"v":4.26},{"p":"VI","g":"F","t":570,"v":4.38},{"p":"VI","g":"F","t":580,"v":4.13},{"p":"VI","g":"F","t":590,"v":3.75},{"p":"VI","g":"F","t":600,"v":3.75},{"p":"VI","g":"F","t":610,"v":3.12},{"p":"VI","g":"F","t":620,"v":3.25},{"p":"VI","g":"F","t":630,"v":2.75},{"p":"VI","g":"F","t":640,"v":2.5},{"p":"VI","g":"F","t":650,"v":3.0},{"p":"VI","g":"F","t":660,"v":3.12},{"p":"VI","g":"F","t":670,"v":3.25},{"p":"VI","g":"F","t":680,"v":3.5},{"p":"VI","g":"F","t":690,"v":3.4},{"p":"VI","g":"F","t":700,"v":3.12},{"p":"VI","g":"F","t":710,"v":3.75},{"p":"VI","g":"F","t":720,"v":4.0},{"p":"VI","g":"F","t":730,"v":3.9},{"p":"VI","g":"F","t":740,"v":4.26},{"p":"VI","g":"F","t":750,"v":3.9},{"p":"VI","g":"F","t":760,"v":3.0},{"p":"VI","g":"F","t":770,"v":2.5},{"p":"VI","g":"F","t":785,"v":2.0},
      {"p":"VI","g":"C","t":-100,"v":1.6},{"p":"VI","g":"C","t":-90,"v":0.86},{"p":"VI","g":"C","t":-80,"v":0.1},{"p":"VI","g":"C","t":-70,"v":-0.4},{"p":"VI","g":"C","t":-60,"v":-0.78},{"p":"VI","g":"C","t":-50,"v":-0.4},{"p":"VI","g":"C","t":-40,"v":-0.15},{"p":"VI","g":"C","t":-30,"v":-0.28},{"p":"VI","g":"C","t":-20,"v":0.1},{"p":"VI","g":"C","t":-10,"v":0.6},{"p":"VI","g":"C","t":0,"v":1.1},{"p":"VI","g":"C","t":10,"v":1.23},{"p":"VI","g":"C","t":20,"v":0.48},{"p":"VI","g":"C","t":30,"v":1.6},{"p":"VI","g":"C","t":40,"v":2.37},{"p":"VI","g":"C","t":50,"v":3.0},{"p":"VI","g":"C","t":60,"v":3.5},{"p":"VI","g":"C","t":70,"v":3.94},{"p":"VI","g":"C","t":80,"v":3.8},{"p":"VI","g":"C","t":90,"v":4.07},{"p":"VI","g":"C","t":100,"v":4.13},{"p":"VI","g":"C","t":110,"v":4.5},{"p":"VI","g":"C","t":120,"v":4.76},{"p":"VI","g":"C","t":130,"v":4.4},{"p":"VI","g":"C","t":140,"v":3.9},{"p":"VI","g":"C","t":150,"v":4.0},{"p":"VI","g":"C","t":160,"v":4.5},{"p":"VI","g":"C","t":170,"v":5.0},{"p":"VI","g":"C","t":180,"v":5.26},{"p":"VI","g":"C","t":190,"v":5.5},{"p":"VI","g":"C","t":200,"v":5.26},{"p":"VI","g":"C","t":210,"v":5.4},{"p":"VI","g":"C","t":220,"v":4.76},{"p":"VI","g":"C","t":230,"v":5.0},{"p":"VI","g":"C","t":240,"v":5.5},{"p":"VI","g":"C","t":250,"v":6.0},{"p":"VI","g":"C","t":260,"v":6.27},{"p":"VI","g":"C","t":270,"v":6.5},{"p":"VI","g":"C","t":280,"v":6.27},{"p":"VI","g":"C","t":290,"v":5.76},{"p":"VI","g":"C","t":300,"v":5.64},{"p":"VI","g":"C","t":310,"v":5.5},{"p":"VI","g":"C","t":320,"v":6.0},{"p":"VI","g":"C","t":330,"v":6.5},{"p":"VI","g":"C","t":340,"v":6.78},{"p":"VI","g":"C","t":350,"v":7.28},{"p":"VI","g":"C","t":360,"v":6.78},{"p":"VI","g":"C","t":370,"v":6.4},{"p":"VI","g":"C","t":380,"v":6.4},{"p":"VI","g":"C","t":390,"v":7.0},{"p":"VI","g":"C","t":400,"v":7.5},{"p":"VI","g":"C","t":410,"v":7.78},{"p":"VI","g":"C","t":420,"v":8.8},{"p":"VI","g":"C","t":430,"v":7.9},{"p":"VI","g":"C","t":440,"v":7.5},{"p":"VI","g":"C","t":450,"v":8.0},{"p":"VI","g":"C","t":460,"v":7.9},{"p":"VI","g":"C","t":470,"v":7.0},{"p":"VI","g":"C","t":480,"v":7.28},{"p":"VI","g":"C","t":490,"v":7.28},{"p":"VI","g":"C","t":500,"v":7.0},{"p":"VI","g":"C","t":510,"v":6.65},{"p":"VI","g":"C","t":520,"v":6.78},{"p":"VI","g":"C","t":530,"v":7.0},{"p":"VI","g":"C","t":540,"v":7.15},{"p":"VI","g":"C","t":550,"v":7.15},{"p":"VI","g":"C","t":560,"v":6.0},{"p":"VI","g":"C","t":570,"v":5.0},{"p":"VI","g":"C","t":580,"v":4.76},{"p":"VI","g":"C","t":590,"v":4.63},{"p":"VI","g":"C","t":600,"v":4.76},{"p":"VI","g":"C","t":610,"v":5.0},{"p":"VI","g":"C","t":620,"v":4.26},{"p":"VI","g":"C","t":630,"v":3.4},{"p":"VI","g":"C","t":640,"v":2.75},{"p":"VI","g":"C","t":650,"v":3.12},{"p":"VI","g":"C","t":660,"v":3.5},{"p":"VI","g":"C","t":670,"v":3.9},{"p":"VI","g":"C","t":680,"v":4.26},{"p":"VI","g":"C","t":690,"v":4.5},{"p":"VI","g":"C","t":700,"v":4.26},{"p":"VI","g":"C","t":710,"v":4.13},{"p":"VI","g":"C","t":720,"v":3.75},{"p":"VI","g":"C","t":730,"v":3.25},{"p":"VI","g":"C","t":740,"v":2.37},{"p":"VI","g":"C","t":750,"v":2.75},{"p":"VI","g":"C","t":760,"v":3.12},{"p":"VI","g":"C","t":770,"v":2.87},{"p":"VI","g":"C","t":785,"v":2.37},
      {"p":"VI","g":"S","t":-100,"v":1.0},{"p":"VI","g":"S","t":-90,"v":0.35},{"p":"VI","g":"S","t":-80,"v":-0.5},{"p":"VI","g":"S","t":-70,"v":-0.28},{"p":"VI","g":"S","t":-60,"v":-0.15},{"p":"VI","g":"S","t":-50,"v":-0.65},{"p":"VI","g":"S","t":-40,"v":-0.4},{"p":"VI","g":"S","t":-30,"v":0.1},{"p":"VI","g":"S","t":-20,"v":0.23},{"p":"VI","g":"S","t":-10,"v":0.73},{"p":"VI","g":"S","t":0,"v":1.6},{"p":"VI","g":"S","t":10,"v":1.86},{"p":"VI","g":"S","t":20,"v":1.1},{"p":"VI","g":"S","t":30,"v":1.86},{"p":"VI","g":"S","t":40,"v":2.37},{"p":"VI","g":"S","t":50,"v":2.6},{"p":"VI","g":"S","t":60,"v":2.37},{"p":"VI","g":"S","t":70,"v":2.1},{"p":"VI","g":"S","t":80,"v":2.0},{"p":"VI","g":"S","t":90,"v":2.87},{"p":"VI","g":"S","t":100,"v":3.0},{"p":"VI","g":"S","t":110,"v":2.75},{"p":"VI","g":"S","t":120,"v":3.0},{"p":"VI","g":"S","t":130,"v":3.4},{"p":"VI","g":"S","t":140,"v":3.25},{"p":"VI","g":"S","t":150,"v":2.87},{"p":"VI","g":"S","t":160,"v":3.75},{"p":"VI","g":"S","t":170,"v":5.0},{"p":"VI","g":"S","t":180,"v":5.5},{"p":"VI","g":"S","t":190,"v":5.9},{"p":"VI","g":"S","t":200,"v":6.4},{"p":"VI","g":"S","t":210,"v":6.78},{"p":"VI","g":"S","t":220,"v":6.4},{"p":"VI","g":"S","t":230,"v":6.0},{"p":"VI","g":"S","t":240,"v":6.5},{"p":"VI","g":"S","t":250,"v":6.78},{"p":"VI","g":"S","t":260,"v":6.65},{"p":"VI","g":"S","t":270,"v":6.78},{"p":"VI","g":"S","t":280,"v":6.78},{"p":"VI","g":"S","t":290,"v":7.4},{"p":"VI","g":"S","t":300,"v":6.65},{"p":"VI","g":"S","t":310,"v":5.9},{"p":"VI","g":"S","t":320,"v":6.4},{"p":"VI","g":"S","t":330,"v":6.65},{"p":"VI","g":"S","t":340,"v":6.0},{"p":"VI","g":"S","t":350,"v":5.9},{"p":"VI","g":"S","t":360,"v":5.9},{"p":"VI","g":"S","t":370,"v":5.76},{"p":"VI","g":"S","t":380,"v":5.64},{"p":"VI","g":"S","t":390,"v":5.4},{"p":"VI","g":"S","t":400,"v":5.26},{"p":"VI","g":"S","t":410,"v":5.14},{"p":"VI","g":"S","t":420,"v":5.5},{"p":"VI","g":"S","t":430,"v":6.15},{"p":"VI","g":"S","t":440,"v":6.27},{"p":"VI","g":"S","t":450,"v":5.26},{"p":"VI","g":"S","t":460,"v":4.63},{"p":"VI","g":"S","t":470,"v":5.0},{"p":"VI","g":"S","t":480,"v":5.64},{"p":"VI","g":"S","t":490,"v":5.64},{"p":"VI","g":"S","t":500,"v":5.5},{"p":"VI","g":"S","t":510,"v":5.4},{"p":"VI","g":"S","t":520,"v":5.26},{"p":"VI","g":"S","t":530,"v":5.26},{"p":"VI","g":"S","t":540,"v":5.14},{"p":"VI","g":"S","t":550,"v":5.14},{"p":"VI","g":"S","t":560,"v":4.76},{"p":"VI","g":"S","t":570,"v":4.63},{"p":"VI","g":"S","t":580,"v":4.38},{"p":"VI","g":"S","t":590,"v":4.26},{"p":"VI","g":"S","t":600,"v":3.0},{"p":"VI","g":"S","t":610,"v":2.5},{"p":"VI","g":"S","t":620,"v":2.37},{"p":"VI","g":"S","t":630,"v":2.5},{"p":"VI","g":"S","t":640,"v":2.75},{"p":"VI","g":"S","t":650,"v":3.25},{"p":"VI","g":"S","t":660,"v":3.75},{"p":"VI","g":"S","t":670,"v":3.5},{"p":"VI","g":"S","t":680,"v":3.6},{"p":"VI","g":"S","t":690,"v":3.4},{"p":"VI","g":"S","t":700,"v":3.4},{"p":"VI","g":"S","t":710,"v":3.4},{"p":"VI","g":"S","t":720,"v":3.25},{"p":"VI","g":"S","t":730,"v":3.4},{"p":"VI","g":"S","t":740,"v":3.5},{"p":"VI","g":"S","t":750,"v":3.25},{"p":"VI","g":"S","t":760,"v":3.0},{"p":"VI","g":"S","t":770,"v":3.0},{"p":"VI","g":"S","t":785,"v":2.6},

      {"p":"PD","g":"F","t":-100,"v":1.85},{"p":"PD","g":"F","t":-90,"v":0.84},{"p":"PD","g":"F","t":-80,"v":0.2},{"p":"PD","g":"F","t":-70,"v":-0.3},{"p":"PD","g":"F","t":-60,"v":-0.55},{"p":"PD","g":"F","t":-50,"v":-0.55},{"p":"PD","g":"F","t":-40,"v":-0.4},{"p":"PD","g":"F","t":-30,"v":-0.8},{"p":"PD","g":"F","t":-20,"v":0.0},{"p":"PD","g":"F","t":-10,"v":0.6},{"p":"PD","g":"F","t":0,"v":1.1},{"p":"PD","g":"F","t":10,"v":1.35},{"p":"PD","g":"F","t":20,"v":1.47},{"p":"PD","g":"F","t":30,"v":0.97},{"p":"PD","g":"F","t":40,"v":1.22},{"p":"PD","g":"F","t":50,"v":1.98},{"p":"PD","g":"F","t":60,"v":2.23},{"p":"PD","g":"F","t":70,"v":2.6},{"p":"PD","g":"F","t":80,"v":3.1},{"p":"PD","g":"F","t":90,"v":4.0},{"p":"PD","g":"F","t":100,"v":4.62},{"p":"PD","g":"F","t":110,"v":4.87},{"p":"PD","g":"F","t":120,"v":4.5},{"p":"PD","g":"F","t":130,"v":4.37},{"p":"PD","g":"F","t":140,"v":4.0},{"p":"PD","g":"F","t":150,"v":3.5},{"p":"PD","g":"F","t":160,"v":3.37},{"p":"PD","g":"F","t":170,"v":3.87},{"p":"PD","g":"F","t":180,"v":3.87},{"p":"PD","g":"F","t":190,"v":3.5},{"p":"PD","g":"F","t":200,"v":3.62},{"p":"PD","g":"F","t":210,"v":4.0},{"p":"PD","g":"F","t":220,"v":4.5},{"p":"PD","g":"F","t":230,"v":5.13},{"p":"PD","g":"F","t":240,"v":5.9},{"p":"PD","g":"F","t":250,"v":6.0},{"p":"PD","g":"F","t":260,"v":5.63},{"p":"PD","g":"F","t":270,"v":5.0},{"p":"PD","g":"F","t":280,"v":4.5},{"p":"PD","g":"F","t":290,"v":5.0},{"p":"PD","g":"F","t":300,"v":5.25},{"p":"PD","g":"F","t":310,"v":5.0},{"p":"PD","g":"F","t":320,"v":5.25},{"p":"PD","g":"F","t":330,"v":5.38},{"p":"PD","g":"F","t":340,"v":3.87},{"p":"PD","g":"F","t":350,"v":5.13},{"p":"PD","g":"F","t":360,"v":5.9},{"p":"PD","g":"F","t":370,"v":5.9},{"p":"PD","g":"F","t":380,"v":6.26},{"p":"PD","g":"F","t":390,"v":6.38},{"p":"PD","g":"F","t":400,"v":6.13},{"p":"PD","g":"F","t":410,"v":6.26},{"p":"PD","g":"F","t":420,"v":6.76},{"p":"PD","g":"F","t":430,"v":7.14},{"p":"PD","g":"F","t":440,"v":7.14},{"p":"PD","g":"F","t":450,"v":7.0},{"p":"PD","g":"F","t":460,"v":7.27},{"p":"PD","g":"F","t":470,"v":7.0},{"p":"PD","g":"F","t":480,"v":6.76},{"p":"PD","g":"F","t":490,"v":6.64},{"p":"PD","g":"F","t":500,"v":6.64},{"p":"PD","g":"F","t":510,"v":6.26},{"p":"PD","g":"F","t":520,"v":5.9},{"p":"PD","g":"F","t":530,"v":5.5},{"p":"PD","g":"F","t":540,"v":5.0},{"p":"PD","g":"F","t":550,"v":4.5},{"p":"PD","g":"F","t":560,"v":4.37},{"p":"PD","g":"F","t":570,"v":5.0},{"p":"PD","g":"F","t":580,"v":5.25},{"p":"PD","g":"F","t":590,"v":5.38},{"p":"PD","g":"F","t":600,"v":5.9},{"p":"PD","g":"F","t":610,"v":5.5},{"p":"PD","g":"F","t":620,"v":5.25},{"p":"PD","g":"F","t":630,"v":5.0},{"p":"PD","g":"F","t":640,"v":4.75},{"p":"PD","g":"F","t":650,"v":4.37},{"p":"PD","g":"F","t":660,"v":3.87},{"p":"PD","g":"F","t":670,"v":4.12},{"p":"PD","g":"F","t":680,"v":4.0},{"p":"PD","g":"F","t":690,"v":3.74},{"p":"PD","g":"F","t":700,"v":3.74},{"p":"PD","g":"F","t":710,"v":3.62},{"p":"PD","g":"F","t":720,"v":3.37},{"p":"PD","g":"F","t":730,"v":3.24},{"p":"PD","g":"F","t":740,"v":3.1},{"p":"PD","g":"F","t":750,"v":3.24},{"p":"PD","g":"F","t":760,"v":3.1},{"p":"PD","g":"F","t":770,"v":3.0},{"p":"PD","g":"F","t":785,"v":3.37},
      {"p":"PD","g":"C","t":-100,"v":0.72},{"p":"PD","g":"C","t":-90,"v":0.2},{"p":"PD","g":"C","t":-80,"v":-0.3},{"p":"PD","g":"C","t":-70,"v":-0.4},{"p":"PD","g":"C","t":-60,"v":-0.55},{"p":"PD","g":"C","t":-50,"v":-0.16},{"p":"PD","g":"C","t":-40,"v":0.2},{"p":"PD","g":"C","t":-30,"v":-0.16},{"p":"PD","g":"C","t":-20,"v":0.1},{"p":"PD","g":"C","t":-10,"v":0.6},{"p":"PD","g":"C","t":0,"v":1.6},{"p":"PD","g":"C","t":10,"v":1.72},{"p":"PD","g":"C","t":20,"v":2.48},{"p":"PD","g":"C","t":30,"v":3.24},{"p":"PD","g":"C","t":40,"v":3.74},{"p":"PD","g":"C","t":50,"v":2.86},{"p":"PD","g":"C","t":60,"v":3.5},{"p":"PD","g":"C","t":70,"v":2.35},{"p":"PD","g":"C","t":80,"v":2.6},{"p":"PD","g":"C","t":90,"v":3.0},{"p":"PD","g":"C","t":100,"v":3.1},{"p":"PD","g":"C","t":110,"v":3.0},{"p":"PD","g":"C","t":120,"v":2.35},{"p":"PD","g":"C","t":130,"v":2.6},{"p":"PD","g":"C","t":140,"v":3.1},{"p":"PD","g":"C","t":150,"v":3.0},{"p":"PD","g":"C","t":160,"v":2.86},{"p":"PD","g":"C","t":170,"v":1.98},{"p":"PD","g":"C","t":180,"v":1.35},{"p":"PD","g":"C","t":190,"v":1.98},{"p":"PD","g":"C","t":200,"v":2.48},{"p":"PD","g":"C","t":210,"v":1.98},{"p":"PD","g":"C","t":220,"v":1.72},{"p":"PD","g":"C","t":230,"v":1.6},{"p":"PD","g":"C","t":240,"v":2.23},{"p":"PD","g":"C","t":250,"v":2.1},{"p":"PD","g":"C","t":260,"v":3.37},{"p":"PD","g":"C","t":270,"v":4.5},{"p":"PD","g":"C","t":280,"v":5.25},{"p":"PD","g":"C","t":290,"v":5.5},{"p":"PD","g":"C","t":300,"v":6.0},{"p":"PD","g":"C","t":310,"v":7.27},{"p":"PD","g":"C","t":320,"v":9.0},{"p":"PD","g":"C","t":327,"v":9.9},{"p":"PD","g":"C","t":335,"v":9.28},{"p":"PD","g":"C","t":340,"v":8.15},{"p":"PD","g":"C","t":350,"v":7.52},{"p":"PD","g":"C","t":360,"v":8.5},{"p":"PD","g":"C","t":370,"v":8.5},{"p":"PD","g":"C","t":380,"v":8.0},{"p":"PD","g":"C","t":390,"v":7.4},{"p":"PD","g":"C","t":400,"v":7.52},{"p":"PD","g":"C","t":410,"v":7.77},{"p":"PD","g":"C","t":420,"v":8.0},{"p":"PD","g":"C","t":430,"v":7.27},{"p":"PD","g":"C","t":440,"v":6.5},{"p":"PD","g":"C","t":450,"v":7.0},{"p":"PD","g":"C","t":460,"v":7.52},{"p":"PD","g":"C","t":470,"v":6.9},{"p":"PD","g":"C","t":480,"v":7.0},{"p":"PD","g":"C","t":490,"v":7.27},{"p":"PD","g":"C","t":500,"v":6.76},{"p":"PD","g":"C","t":510,"v":6.13},{"p":"PD","g":"C","t":520,"v":6.76},{"p":"PD","g":"C","t":530,"v":7.0},{"p":"PD","g":"C","t":540,"v":7.27},{"p":"PD","g":"C","t":550,"v":7.4},{"p":"PD","g":"C","t":560,"v":6.76},{"p":"PD","g":"C","t":570,"v":5.25},{"p":"PD","g":"C","t":580,"v":6.26},{"p":"PD","g":"C","t":590,"v":6.9},{"p":"PD","g":"C","t":600,"v":6.38},{"p":"PD","g":"C","t":610,"v":6.0},{"p":"PD","g":"C","t":620,"v":6.0},{"p":"PD","g":"C","t":630,"v":5.25},{"p":"PD","g":"C","t":640,"v":3.87},{"p":"PD","g":"C","t":650,"v":3.0},{"p":"PD","g":"C","t":660,"v":3.74},{"p":"PD","g":"C","t":670,"v":2.86},{"p":"PD","g":"C","t":680,"v":3.0},{"p":"PD","g":"C","t":690,"v":3.5},{"p":"PD","g":"C","t":700,"v":2.86},{"p":"PD","g":"C","t":710,"v":3.5},{"p":"PD","g":"C","t":720,"v":3.24},{"p":"PD","g":"C","t":730,"v":3.5},{"p":"PD","g":"C","t":740,"v":3.1},{"p":"PD","g":"C","t":750,"v":2.6},{"p":"PD","g":"C","t":760,"v":3.37},{"p":"PD","g":"C","t":770,"v":3.74},{"p":"PD","g":"C","t":785,"v":3.5},
      {"p":"PD","g":"S","t":-100,"v":1.1},{"p":"PD","g":"S","t":-90,"v":0.34},{"p":"PD","g":"S","t":-80,"v":0.0},{"p":"PD","g":"S","t":-70,"v":-0.3},{"p":"PD","g":"S","t":-60,"v":-0.4},{"p":"PD","g":"S","t":-50,"v":-0.16},{"p":"PD","g":"S","t":-40,"v":-0.3},{"p":"PD","g":"S","t":-30,"v":-0.67},{"p":"PD","g":"S","t":-20,"v":0.2},{"p":"PD","g":"S","t":-10,"v":0.7},{"p":"PD","g":"S","t":0,"v":0.84},{"p":"PD","g":"S","t":10,"v":0.47},{"p":"PD","g":"S","t":20,"v":1.35},{"p":"PD","g":"S","t":30,"v":1.98},{"p":"PD","g":"S","t":40,"v":2.35},{"p":"PD","g":"S","t":50,"v":3.0},{"p":"PD","g":"S","t":60,"v":3.1},{"p":"PD","g":"S","t":70,"v":3.0},{"p":"PD","g":"S","t":80,"v":3.1},{"p":"PD","g":"S","t":90,"v":3.87},{"p":"PD","g":"S","t":100,"v":5.0},{"p":"PD","g":"S","t":110,"v":5.38},{"p":"PD","g":"S","t":120,"v":5.5},{"p":"PD","g":"S","t":130,"v":5.25},{"p":"PD","g":"S","t":140,"v":5.5},{"p":"PD","g":"S","t":150,"v":5.9},{"p":"PD","g":"S","t":160,"v":5.76},{"p":"PD","g":"S","t":170,"v":6.0},{"p":"PD","g":"S","t":180,"v":6.64},{"p":"PD","g":"S","t":190,"v":6.26},{"p":"PD","g":"S","t":200,"v":5.9},{"p":"PD","g":"S","t":210,"v":6.0},{"p":"PD","g":"S","t":220,"v":6.38},{"p":"PD","g":"S","t":230,"v":5.38},{"p":"PD","g":"S","t":240,"v":6.0},{"p":"PD","g":"S","t":250,"v":6.9},{"p":"PD","g":"S","t":260,"v":7.27},{"p":"PD","g":"S","t":270,"v":7.4},{"p":"PD","g":"S","t":280,"v":7.14},{"p":"PD","g":"S","t":290,"v":7.27},{"p":"PD","g":"S","t":300,"v":7.52},{"p":"PD","g":"S","t":310,"v":7.77},{"p":"PD","g":"S","t":320,"v":8.27},{"p":"PD","g":"S","t":330,"v":7.77},{"p":"PD","g":"S","t":340,"v":7.14},{"p":"PD","g":"S","t":350,"v":8.5},{"p":"PD","g":"S","t":360,"v":8.78},{"p":"PD","g":"S","t":370,"v":8.0},{"p":"PD","g":"S","t":380,"v":6.5},{"p":"PD","g":"S","t":390,"v":7.0},{"p":"PD","g":"S","t":400,"v":7.65},{"p":"PD","g":"S","t":410,"v":7.77},{"p":"PD","g":"S","t":420,"v":8.27},{"p":"PD","g":"S","t":430,"v":7.77},{"p":"PD","g":"S","t":440,"v":7.14},{"p":"PD","g":"S","t":450,"v":7.52},{"p":"PD","g":"S","t":460,"v":7.9},{"p":"PD","g":"S","t":470,"v":7.52},{"p":"PD","g":"S","t":480,"v":7.27},{"p":"PD","g":"S","t":490,"v":7.77},{"p":"PD","g":"S","t":500,"v":8.0},{"p":"PD","g":"S","t":510,"v":7.0},{"p":"PD","g":"S","t":520,"v":7.0},{"p":"PD","g":"S","t":530,"v":7.65},{"p":"PD","g":"S","t":540,"v":7.77},{"p":"PD","g":"S","t":550,"v":7.52},{"p":"PD","g":"S","t":560,"v":6.64},{"p":"PD","g":"S","t":570,"v":6.9},{"p":"PD","g":"S","t":580,"v":6.5},{"p":"PD","g":"S","t":590,"v":6.38},{"p":"PD","g":"S","t":600,"v":5.63},{"p":"PD","g":"S","t":610,"v":5.0},{"p":"PD","g":"S","t":620,"v":5.13},{"p":"PD","g":"S","t":630,"v":5.5},{"p":"PD","g":"S","t":640,"v":4.62},{"p":"PD","g":"S","t":650,"v":3.87},{"p":"PD","g":"S","t":660,"v":3.37},{"p":"PD","g":"S","t":670,"v":3.0},{"p":"PD","g":"S","t":680,"v":3.24},{"p":"PD","g":"S","t":690,"v":2.73},{"p":"PD","g":"S","t":700,"v":3.24},{"p":"PD","g":"S","t":710,"v":3.37},{"p":"PD","g":"S","t":720,"v":3.74},{"p":"PD","g":"S","t":730,"v":3.5},{"p":"PD","g":"S","t":740,"v":4.25},{"p":"PD","g":"S","t":750,"v":3.74},{"p":"PD","g":"S","t":760,"v":3.1},{"p":"PD","g":"S","t":770,"v":3.37},{"p":"PD","g":"S","t":785,"v":3.5},

      {"p":"PI","g":"F","t":-100,"v":0.34},{"p":"PI","g":"F","t":-90,"v":0.1},{"p":"PI","g":"F","t":-80,"v":-0.16},{"p":"PI","g":"F","t":-70,"v":-0.4},{"p":"PI","g":"F","t":-60,"v":-0.67},{"p":"PI","g":"F","t":-50,"v":-0.54},{"p":"PI","g":"F","t":-40,"v":-0.3},{"p":"PI","g":"F","t":-30,"v":0.2},{"p":"PI","g":"F","t":-20,"v":0.47},{"p":"PI","g":"F","t":-10,"v":0.72},{"p":"PI","g":"F","t":0,"v":1.1},{"p":"PI","g":"F","t":10,"v":1.6},{"p":"PI","g":"F","t":20,"v":1.72},{"p":"PI","g":"F","t":30,"v":2.23},{"p":"PI","g":"F","t":40,"v":2.73},{"p":"PI","g":"F","t":50,"v":3.24},{"p":"PI","g":"F","t":60,"v":3.37},{"p":"PI","g":"F","t":70,"v":3.74},{"p":"PI","g":"F","t":80,"v":4.0},{"p":"PI","g":"F","t":90,"v":3.74},{"p":"PI","g":"F","t":100,"v":3.62},{"p":"PI","g":"F","t":110,"v":3.74},{"p":"PI","g":"F","t":120,"v":3.62},{"p":"PI","g":"F","t":130,"v":3.74},{"p":"PI","g":"F","t":140,"v":4.0},{"p":"PI","g":"F","t":150,"v":4.12},{"p":"PI","g":"F","t":160,"v":4.0},{"p":"PI","g":"F","t":170,"v":4.25},{"p":"PI","g":"F","t":180,"v":4.37},{"p":"PI","g":"F","t":190,"v":4.12},{"p":"PI","g":"F","t":200,"v":4.0},{"p":"PI","g":"F","t":210,"v":4.5},{"p":"PI","g":"F","t":220,"v":5.0},{"p":"PI","g":"F","t":230,"v":5.38},{"p":"PI","g":"F","t":240,"v":5.76},{"p":"PI","g":"F","t":250,"v":5.63},{"p":"PI","g":"F","t":260,"v":5.76},{"p":"PI","g":"F","t":270,"v":5.63},{"p":"PI","g":"F","t":280,"v":5.38},{"p":"PI","g":"F","t":290,"v":5.76},{"p":"PI","g":"F","t":300,"v":6.13},{"p":"PI","g":"F","t":310,"v":6.64},{"p":"PI","g":"F","t":320,"v":6.76},{"p":"PI","g":"F","t":330,"v":6.64},{"p":"PI","g":"F","t":340,"v":6.26},{"p":"PI","g":"F","t":350,"v":6.0},{"p":"PI","g":"F","t":360,"v":5.76},{"p":"PI","g":"F","t":370,"v":6.0},{"p":"PI","g":"F","t":380,"v":6.13},{"p":"PI","g":"F","t":390,"v":5.88},{"p":"PI","g":"F","t":400,"v":5.63},{"p":"PI","g":"F","t":410,"v":5.25},{"p":"PI","g":"F","t":420,"v":5.0},{"p":"PI","g":"F","t":430,"v":4.75},{"p":"PI","g":"F","t":440,"v":5.0},{"p":"PI","g":"F","t":450,"v":4.5},{"p":"PI","g":"F","t":460,"v":4.37},{"p":"PI","g":"F","t":470,"v":4.12},{"p":"PI","g":"F","t":480,"v":4.0},{"p":"PI","g":"F","t":490,"v":4.25},{"p":"PI","g":"F","t":500,"v":4.75},{"p":"PI","g":"F","t":510,"v":4.5},{"p":"PI","g":"F","t":520,"v":4.25},{"p":"PI","g":"F","t":530,"v":4.0},{"p":"PI","g":"F","t":540,"v":3.5},{"p":"PI","g":"F","t":550,"v":3.1},{"p":"PI","g":"F","t":560,"v":3.37},{"p":"PI","g":"F","t":570,"v":3.74},{"p":"PI","g":"F","t":580,"v":3.87},{"p":"PI","g":"F","t":590,"v":4.12},{"p":"PI","g":"F","t":600,"v":3.74},{"p":"PI","g":"F","t":610,"v":3.5},{"p":"PI","g":"F","t":620,"v":3.37},{"p":"PI","g":"F","t":630,"v":3.62},{"p":"PI","g":"F","t":640,"v":3.87},{"p":"PI","g":"F","t":650,"v":4.12},{"p":"PI","g":"F","t":660,"v":4.37},{"p":"PI","g":"F","t":670,"v":3.62},{"p":"PI","g":"F","t":680,"v":3.37},{"p":"PI","g":"F","t":690,"v":3.74},{"p":"PI","g":"F","t":700,"v":3.5},{"p":"PI","g":"F","t":710,"v":3.62},{"p":"PI","g":"F","t":720,"v":3.5},{"p":"PI","g":"F","t":730,"v":3.37},{"p":"PI","g":"F","t":740,"v":2.73},{"p":"PI","g":"F","t":750,"v":3.0},{"p":"PI","g":"F","t":760,"v":2.86},{"p":"PI","g":"F","t":770,"v":2.48},{"p":"PI","g":"F","t":785,"v":2.23},
      {"p":"PI","g":"C","t":-100,"v":0.6},{"p":"PI","g":"C","t":-90,"v":0.1},{"p":"PI","g":"C","t":-80,"v":-0.3},{"p":"PI","g":"C","t":-70,"v":-0.8},{"p":"PI","g":"C","t":-60,"v":-1.42},{"p":"PI","g":"C","t":-50,"v":-1.93},{"p":"PI","g":"C","t":-40,"v":-1.42},{"p":"PI","g":"C","t":-30,"v":-0.4},{"p":"PI","g":"C","t":-20,"v":0.2},{"p":"PI","g":"C","t":-10,"v":0.6},{"p":"PI","g":"C","t":0,"v":1.22},{"p":"PI","g":"C","t":10,"v":2.35},{"p":"PI","g":"C","t":20,"v":3.0},{"p":"PI","g":"C","t":30,"v":3.1},{"p":"PI","g":"C","t":40,"v":3.74},{"p":"PI","g":"C","t":50,"v":4.12},{"p":"PI","g":"C","t":60,"v":3.74},{"p":"PI","g":"C","t":70,"v":3.87},{"p":"PI","g":"C","t":80,"v":3.5},{"p":"PI","g":"C","t":90,"v":2.86},{"p":"PI","g":"C","t":100,"v":3.24},{"p":"PI","g":"C","t":110,"v":3.87},{"p":"PI","g":"C","t":120,"v":4.0},{"p":"PI","g":"C","t":130,"v":4.5},{"p":"PI","g":"C","t":140,"v":4.5},{"p":"PI","g":"C","t":150,"v":4.12},{"p":"PI","g":"C","t":160,"v":4.0},{"p":"PI","g":"C","t":170,"v":4.87},{"p":"PI","g":"C","t":180,"v":5.76},{"p":"PI","g":"C","t":190,"v":7.0},{"p":"PI","g":"C","t":200,"v":6.38},{"p":"PI","g":"C","t":210,"v":5.0},{"p":"PI","g":"C","t":220,"v":5.25},{"p":"PI","g":"C","t":230,"v":6.0},{"p":"PI","g":"C","t":240,"v":5.9},{"p":"PI","g":"C","t":250,"v":6.26},{"p":"PI","g":"C","t":260,"v":7.14},{"p":"PI","g":"C","t":265,"v":7.77},{"p":"PI","g":"C","t":270,"v":7.14},{"p":"PI","g":"C","t":280,"v":6.0},{"p":"PI","g":"C","t":290,"v":5.5},{"p":"PI","g":"C","t":300,"v":5.9},{"p":"PI","g":"C","t":310,"v":6.26},{"p":"PI","g":"C","t":320,"v":7.27},{"p":"PI","g":"C","t":330,"v":8.0},{"p":"PI","g":"C","t":340,"v":7.4},{"p":"PI","g":"C","t":350,"v":7.77},{"p":"PI","g":"C","t":360,"v":8.78},{"p":"PI","g":"C","t":365,"v":9.03},{"p":"PI","g":"C","t":380,"v":8.4},{"p":"PI","g":"C","t":390,"v":8.4},{"p":"PI","g":"C","t":400,"v":8.78},{"p":"PI","g":"C","t":410,"v":8.65},{"p":"PI","g":"C","t":420,"v":8.53},{"p":"PI","g":"C","t":430,"v":8.27},{"p":"PI","g":"C","t":440,"v":7.65},{"p":"PI","g":"C","t":450,"v":6.64},{"p":"PI","g":"C","t":460,"v":7.14},{"p":"PI","g":"C","t":470,"v":7.65},{"p":"PI","g":"C","t":480,"v":6.64},{"p":"PI","g":"C","t":490,"v":6.26},{"p":"PI","g":"C","t":500,"v":6.26},{"p":"PI","g":"C","t":510,"v":6.64},{"p":"PI","g":"C","t":520,"v":6.9},{"p":"PI","g":"C","t":530,"v":6.38},{"p":"PI","g":"C","t":540,"v":6.13},{"p":"PI","g":"C","t":550,"v":6.26},{"p":"PI","g":"C","t":560,"v":5.5},{"p":"PI","g":"C","t":570,"v":4.5},{"p":"PI","g":"C","t":580,"v":3.74},{"p":"PI","g":"C","t":590,"v":4.0},{"p":"PI","g":"C","t":600,"v":3.87},{"p":"PI","g":"C","t":610,"v":3.87},{"p":"PI","g":"C","t":620,"v":4.0},{"p":"PI","g":"C","t":630,"v":3.74},{"p":"PI","g":"C","t":640,"v":3.5},{"p":"PI","g":"C","t":650,"v":3.87},{"p":"PI","g":"C","t":660,"v":4.12},{"p":"PI","g":"C","t":670,"v":3.87},{"p":"PI","g":"C","t":680,"v":3.74},{"p":"PI","g":"C","t":690,"v":4.0},{"p":"PI","g":"C","t":700,"v":3.74},{"p":"PI","g":"C","t":710,"v":3.87},{"p":"PI","g":"C","t":720,"v":4.0},{"p":"PI","g":"C","t":730,"v":3.74},{"p":"PI","g":"C","t":740,"v":3.74},{"p":"PI","g":"C","t":750,"v":3.5},{"p":"PI","g":"C","t":760,"v":3.37},{"p":"PI","g":"C","t":770,"v":3.0},{"p":"PI","g":"C","t":785,"v":2.35},
      {"p":"PI","g":"S","t":-100,"v":1.6},{"p":"PI","g":"S","t":-90,"v":1.22},{"p":"PI","g":"S","t":-80,"v":0.47},{"p":"PI","g":"S","t":-70,"v":0.1},{"p":"PI","g":"S","t":-60,"v":-0.3},{"p":"PI","g":"S","t":-50,"v":-1.05},{"p":"PI","g":"S","t":-40,"v":-0.67},{"p":"PI","g":"S","t":-30,"v":-0.16},{"p":"PI","g":"S","t":-20,"v":0.47},{"p":"PI","g":"S","t":-10,"v":0.97},{"p":"PI","g":"S","t":0,"v":0.97},{"p":"PI","g":"S","t":10,"v":0.97},{"p":"PI","g":"S","t":20,"v":1.35},{"p":"PI","g":"S","t":30,"v":1.98},{"p":"PI","g":"S","t":40,"v":2.73},{"p":"PI","g":"S","t":50,"v":3.24},{"p":"PI","g":"S","t":60,"v":3.5},{"p":"PI","g":"S","t":70,"v":3.5},{"p":"PI","g":"S","t":80,"v":4.25},{"p":"PI","g":"S","t":90,"v":4.75},{"p":"PI","g":"S","t":100,"v":5.0},{"p":"PI","g":"S","t":110,"v":4.62},{"p":"PI","g":"S","t":120,"v":4.12},{"p":"PI","g":"S","t":130,"v":4.0},{"p":"PI","g":"S","t":140,"v":4.37},{"p":"PI","g":"S","t":150,"v":4.5},{"p":"PI","g":"S","t":160,"v":4.62},{"p":"PI","g":"S","t":170,"v":5.0},{"p":"PI","g":"S","t":180,"v":4.5},{"p":"PI","g":"S","t":190,"v":5.13},{"p":"PI","g":"S","t":200,"v":5.76},{"p":"PI","g":"S","t":210,"v":5.13},{"p":"PI","g":"S","t":220,"v":4.0},{"p":"PI","g":"S","t":230,"v":4.25},{"p":"PI","g":"S","t":240,"v":4.37},{"p":"PI","g":"S","t":250,"v":4.5},{"p":"PI","g":"S","t":260,"v":5.0},{"p":"PI","g":"S","t":270,"v":4.62},{"p":"PI","g":"S","t":280,"v":4.25},{"p":"PI","g":"S","t":290,"v":5.88},{"p":"PI","g":"S","t":300,"v":5.88},{"p":"PI","g":"S","t":310,"v":6.13},{"p":"PI","g":"S","t":320,"v":6.9},{"p":"PI","g":"S","t":330,"v":7.14},{"p":"PI","g":"S","t":340,"v":6.26},{"p":"PI","g":"S","t":350,"v":6.5},{"p":"PI","g":"S","t":360,"v":6.76},{"p":"PI","g":"S","t":370,"v":6.5},{"p":"PI","g":"S","t":380,"v":6.13},{"p":"PI","g":"S","t":390,"v":6.0},{"p":"PI","g":"S","t":400,"v":5.76},{"p":"PI","g":"S","t":410,"v":5.88},{"p":"PI","g":"S","t":420,"v":5.25},{"p":"PI","g":"S","t":430,"v":5.0},{"p":"PI","g":"S","t":440,"v":5.13},{"p":"PI","g":"S","t":450,"v":5.76},{"p":"PI","g":"S","t":460,"v":5.76},{"p":"PI","g":"S","t":470,"v":5.5},{"p":"PI","g":"S","t":480,"v":5.38},{"p":"PI","g":"S","t":490,"v":5.13},{"p":"PI","g":"S","t":500,"v":5.25},{"p":"PI","g":"S","t":510,"v":5.63},{"p":"PI","g":"S","t":520,"v":6.0},{"p":"PI","g":"S","t":530,"v":6.38},{"p":"PI","g":"S","t":540,"v":4.87},{"p":"PI","g":"S","t":550,"v":5.38},{"p":"PI","g":"S","t":560,"v":5.88},{"p":"PI","g":"S","t":570,"v":5.38},{"p":"PI","g":"S","t":580,"v":4.12},{"p":"PI","g":"S","t":590,"v":3.87},{"p":"PI","g":"S","t":600,"v":4.0},{"p":"PI","g":"S","t":610,"v":4.25},{"p":"PI","g":"S","t":620,"v":4.5},{"p":"PI","g":"S","t":630,"v":4.12},{"p":"PI","g":"S","t":640,"v":3.74},{"p":"PI","g":"S","t":650,"v":3.62},{"p":"PI","g":"S","t":660,"v":3.37},{"p":"PI","g":"S","t":670,"v":3.24},{"p":"PI","g":"S","t":680,"v":2.6},{"p":"PI","g":"S","t":690,"v":2.23},{"p":"PI","g":"S","t":700,"v":1.6},{"p":"PI","g":"S","t":710,"v":2.35},{"p":"PI","g":"S","t":720,"v":2.86},{"p":"PI","g":"S","t":730,"v":3.24},{"p":"PI","g":"S","t":740,"v":2.6},{"p":"PI","g":"S","t":750,"v":2.35},{"p":"PI","g":"S","t":760,"v":2.6},{"p":"PI","g":"S","t":770,"v":2.35},{"p":"PI","g":"S","t":785,"v":3.0}
    ]
  },
  "columns": 3,
  "spacing": {"row": 246, "column": 126},
  "bounds": "flush",
  "concat": [
    {
      "width": 1255, "height": 756,
      "title": "Vowel duration",
      "layer": [
        {"data": {"values": [{}]},
         "mark": {"type": "rect", "fill": "#e6e7e9", "stroke": "#8c8c8c", "strokeWidth": 2},
         "encoding": {
           "x": {"datum": 300, "type": "quantitative", "scale": {"domain": [-100, 800], "nice": false, "zero": false}, "axis": {"offset": -114.545, "values": [100,200,300,400,500,600,700], "title": "Time (ms)", "titlePadding": 13}},
           "x2": {"datum": 600},
           "y": {"datum": 0, "type": "quantitative", "scale": {"domain": [-2.5, 14], "nice": false, "zero": false}, "axis": {"offset": -139.44, "values": [-2,2,4,6,8,10,12], "title": "Response magnitude (10⁻¹³ T)", "titleFontSize": 52, "titleX": -177.2, "titleBaseline": "middle"}},
           "y2": {"datum": 14}
         }},
        {"data": {"name": "dev"}, "transform": [{"filter": "datum.p == 'VD'"}],
         "mark": {"type": "line", "strokeDash": [17, 11]},
         "encoding": {
           "x": {"field": "t", "type": "quantitative", "scale": {"domain": [-100, 800], "nice": false, "zero": false}, "axis": {"offset": -114.545, "values": [100,200,300,400,500,600,700], "title": "Time (ms)", "titlePadding": 13}},
           "y": {"field": "v", "type": "quantitative", "scale": {"domain": [-2.5, 14], "nice": false, "zero": false}, "axis": {"offset": -139.44, "values": [-2,2,4,6,8,10,12], "title": "Response magnitude (10⁻¹³ T)", "titleFontSize": 52, "titleX": -177.2, "titleBaseline": "middle"}},
           "color": {"field": "g", "type": "nominal", "scale": {"domain": ["S","C","F"], "range": ["#e4203a","#2b8a32","#5a8fd3"]}, "legend": null}
         }},
        {"data": {"name": "std"},
         "mark": {"type": "line"},
         "encoding": {
           "x": {"field": "t", "type": "quantitative", "scale": {"domain": [-100, 800], "nice": false, "zero": false}, "axis": {"offset": -114.545, "values": [100,200,300,400,500,600,700], "title": "Time (ms)", "titlePadding": 13}},
           "y": {"field": "v", "type": "quantitative", "scale": {"domain": [-2.5, 14], "nice": false, "zero": false}, "axis": {"offset": -139.44, "values": [-2,2,4,6,8,10,12], "title": "Response magnitude (10⁻¹³ T)", "titleFontSize": 52, "titleX": -177.2, "titleBaseline": "middle"}},
           "color": {"field": "g", "type": "nominal", "scale": {"domain": ["S","C","F"], "range": ["#e4203a","#2b8a32","#5a8fd3"]}, "legend": null}
         }}
      ]
    },
    {
      "width": 1255, "height": 756,
      "title": "Loudness",
      "layer": [
        {"data": {"values": [{}]},
         "mark": {"type": "rect", "fill": "#e6e7e9", "stroke": "#8c8c8c", "strokeWidth": 2},
         "encoding": {
           "x": {"datum": 300, "type": "quantitative", "scale": {"domain": [-100, 800], "nice": false, "zero": false}, "axis": {"offset": -114.545, "values": [100,200,300,400,500,600,700], "title": null}},
           "x2": {"datum": 600},
           "y": {"datum": 0, "type": "quantitative", "scale": {"domain": [-2.5, 14], "nice": false, "zero": false}, "axis": {"offset": -139.44, "values": [-2,2,4,6,8,10,12], "title": null}},
           "y2": {"datum": 14}
         }},
        {"data": {"name": "dev"}, "transform": [{"filter": "datum.p == 'LO'"}],
         "mark": {"type": "line", "strokeDash": [17, 11]},
         "encoding": {
           "x": {"field": "t", "type": "quantitative", "scale": {"domain": [-100, 800], "nice": false, "zero": false}, "axis": {"offset": -114.545, "values": [100,200,300,400,500,600,700], "title": null}},
           "y": {"field": "v", "type": "quantitative", "scale": {"domain": [-2.5, 14], "nice": false, "zero": false}, "axis": {"offset": -139.44, "values": [-2,2,4,6,8,10,12], "title": null}},
           "color": {"field": "g", "type": "nominal", "scale": {"domain": ["S","C","F"], "range": ["#e4203a","#2b8a32","#5a8fd3"]}, "legend": null}
         }},
        {"data": {"name": "std"},
         "mark": {"type": "line"},
         "encoding": {
           "x": {"field": "t", "type": "quantitative", "scale": {"domain": [-100, 800], "nice": false, "zero": false}, "axis": {"offset": -114.545, "values": [100,200,300,400,500,600,700], "title": null}},
           "y": {"field": "v", "type": "quantitative", "scale": {"domain": [-2.5, 14], "nice": false, "zero": false}, "axis": {"offset": -139.44, "values": [-2,2,4,6,8,10,12], "title": null}},
           "color": {"field": "g", "type": "nominal", "scale": {"domain": ["S","C","F"], "range": ["#e4203a","#2b8a32","#5a8fd3"]}, "legend": null}
         }}
      ]
    },
    {
      "width": 1255, "height": 756,
      "title": "Vowel identity",
      "layer": [
        {"data": {"values": [{}]},
         "mark": {"type": "rect", "fill": "#e6e7e9", "stroke": "#8c8c8c", "strokeWidth": 2},
         "encoding": {
           "x": {"datum": 300, "type": "quantitative", "scale": {"domain": [-100, 800], "nice": false, "zero": false}, "axis": {"offset": -114.545, "values": [100,200,300,400,500,600,700], "title": null}},
           "x2": {"datum": 600},
           "y": {"datum": 0, "type": "quantitative", "scale": {"domain": [-2.5, 14], "nice": false, "zero": false}, "axis": {"offset": -139.44, "values": [-2,2,4,6,8,10,12], "title": null}},
           "y2": {"datum": 14}
         }},
        {"data": {"name": "dev"}, "transform": [{"filter": "datum.p == 'VI'"}],
         "mark": {"type": "line", "strokeDash": [17, 11]},
         "encoding": {
           "x": {"field": "t", "type": "quantitative", "scale": {"domain": [-100, 800], "nice": false, "zero": false}, "axis": {"offset": -114.545, "values": [100,200,300,400,500,600,700], "title": null}},
           "y": {"field": "v", "type": "quantitative", "scale": {"domain": [-2.5, 14], "nice": false, "zero": false}, "axis": {"offset": -139.44, "values": [-2,2,4,6,8,10,12], "title": null}},
           "color": {"field": "g", "type": "nominal", "scale": {"domain": ["S","C","F"], "range": ["#e4203a","#2b8a32","#5a8fd3"]}, "legend": null}
         }},
        {"data": {"name": "std"},
         "mark": {"type": "line"},
         "encoding": {
           "x": {"field": "t", "type": "quantitative", "scale": {"domain": [-100, 800], "nice": false, "zero": false}, "axis": {"offset": -114.545, "values": [100,200,300,400,500,600,700], "title": null}},
           "y": {"field": "v", "type": "quantitative", "scale": {"domain": [-2.5, 14], "nice": false, "zero": false}, "axis": {"offset": -139.44, "values": [-2,2,4,6,8,10,12], "title": null}},
           "color": {"field": "g", "type": "nominal", "scale": {"domain": ["S","C","F"], "range": ["#e4203a","#2b8a32","#5a8fd3"]}, "legend": null}
         }}
      ]
    },
    {
      "width": 1255, "height": 756,
      "title": "Pitch decrement",
      "layer": [
        {"data": {"values": [{}]},
         "mark": {"type": "rect", "fill": "#e6e7e9", "stroke": "#8c8c8c", "strokeWidth": 2},
         "encoding": {
           "x": {"datum": 300, "type": "quantitative", "scale": {"domain": [-100, 800], "nice": false, "zero": false}, "axis": {"offset": -114.545, "values": [100,200,300,400,500,600,700], "title": null}},
           "x2": {"datum": 600},
           "y": {"datum": 0, "type": "quantitative", "scale": {"domain": [-2.5, 14], "nice": false, "zero": false}, "axis": {"offset": -139.44, "values": [-2,2,4,6,8,10,12], "title": null}},
           "y2": {"datum": 14}
         }},
        {"data": {"name": "dev"}, "transform": [{"filter": "datum.p == 'PD'"}],
         "mark": {"type": "line", "strokeDash": [17, 11]},
         "encoding": {
           "x": {"field": "t", "type": "quantitative", "scale": {"domain": [-100, 800], "nice": false, "zero": false}, "axis": {"offset": -114.545, "values": [100,200,300,400,500,600,700], "title": null}},
           "y": {"field": "v", "type": "quantitative", "scale": {"domain": [-2.5, 14], "nice": false, "zero": false}, "axis": {"offset": -139.44, "values": [-2,2,4,6,8,10,12], "title": null}},
           "color": {"field": "g", "type": "nominal", "scale": {"domain": ["S","C","F"], "range": ["#e4203a","#2b8a32","#5a8fd3"]}, "legend": null}
         }},
        {"data": {"name": "std"},
         "mark": {"type": "line"},
         "encoding": {
           "x": {"field": "t", "type": "quantitative", "scale": {"domain": [-100, 800], "nice": false, "zero": false}, "axis": {"offset": -114.545, "values": [100,200,300,400,500,600,700], "title": null}},
           "y": {"field": "v", "type": "quantitative", "scale": {"domain": [-2.5, 14], "nice": false, "zero": false}, "axis": {"offset": -139.44, "values": [-2,2,4,6,8,10,12], "title": null}},
           "color": {"field": "g", "type": "nominal", "scale": {"domain": ["S","C","F"], "range": ["#e4203a","#2b8a32","#5a8fd3"]}, "legend": null}
         }}
      ]
    },
    {
      "width": 1255, "height": 756,
      "title": "Pitch increase",
      "layer": [
        {"data": {"values": [{}]},
         "mark": {"type": "rect", "fill": "#e6e7e9", "stroke": "#8c8c8c", "strokeWidth": 2},
         "encoding": {
           "x": {"datum": 300, "type": "quantitative", "scale": {"domain": [-100, 800], "nice": false, "zero": false}, "axis": {"offset": -114.545, "values": [100,200,300,400,500,600,700], "title": null}},
           "x2": {"datum": 600},
           "y": {"datum": 0, "type": "quantitative", "scale": {"domain": [-2.5, 14], "nice": false, "zero": false}, "axis": {"offset": -139.44, "values": [-2,2,4,6,8,10,12], "title": null}},
           "y2": {"datum": 14}
         }},
        {"data": {"name": "dev"}, "transform": [{"filter": "datum.p == 'PI'"}],
         "mark": {"type": "line", "strokeDash": [17, 11]},
         "encoding": {
           "x": {"field": "t", "type": "quantitative", "scale": {"domain": [-100, 800], "nice": false, "zero": false}, "axis": {"offset": -114.545, "values": [100,200,300,400,500,600,700], "title": null}},
           "y": {"field": "v", "type": "quantitative", "scale": {"domain": [-2.5, 14], "nice": false, "zero": false}, "axis": {"offset": -139.44, "values": [-2,2,4,6,8,10,12], "title": null}},
           "color": {"field": "g", "type": "nominal", "scale": {"domain": ["S","C","F"], "range": ["#e4203a","#2b8a32","#5a8fd3"]}, "legend": null}
         }},
        {"data": {"name": "std"},
         "mark": {"type": "line"},
         "encoding": {
           "x": {"field": "t", "type": "quantitative", "scale": {"domain": [-100, 800], "nice": false, "zero": false}, "axis": {"offset": -114.545, "values": [100,200,300,400,500,600,700], "title": null}},
           "y": {"field": "v", "type": "quantitative", "scale": {"domain": [-2.5, 14], "nice": false, "zero": false}, "axis": {"offset": -139.44, "values": [-2,2,4,6,8,10,12], "title": null}},
           "color": {"field": "g", "type": "nominal", "scale": {"domain": ["S","C","F"], "range": ["#e4203a","#2b8a32","#5a8fd3"]}, "legend": null}
         }}
      ]
    },
    {
      "width": 950, "height": 288,
      "view": {"stroke": "#8c8c8c", "strokeWidth": 2, "fill": "white"},
      "layer": [
        {"data": {"values": [{"h": "Standard"}, {"h": "Deviant"}]},
         "mark": {"type": "text", "fontSize": 50, "fontWeight": "bold", "align": "center", "baseline": "middle", "dy": -59, "color": "#000000"},
         "encoding": {
           "x": {"field": "h", "type": "nominal", "scale": {"type": "point", "domain": ["Standard","Deviant"], "range": [120, 364], "padding": 0}, "axis": null},
           "y": {"datum": "S", "type": "nominal", "scale": {"type": "point", "domain": ["S","C","F"], "range": [98, 241], "padding": 0}, "axis": null},
           "text": {"field": "h"}
         }},
        {"data": {"values": [
           {"g": "S", "k": "Standard"}, {"g": "S", "k": "Deviant"},
           {"g": "C", "k": "Standard"}, {"g": "C", "k": "Deviant"},
           {"g": "F", "k": "Standard"}, {"g": "F", "k": "Deviant"}
         ]},
         "mark": {"type": "point", "shape": "stroke", "size": 12656, "strokeWidth": 8, "strokeCap": "butt", "opacity": 1},
         "encoding": {
           "x": {"field": "k", "type": "nominal", "scale": {"type": "point", "domain": ["Standard","Deviant"], "range": [120, 364], "padding": 0}, "axis": null},
           "y": {"field": "g", "type": "nominal", "scale": {"type": "point", "domain": ["S","C","F"], "range": [98, 241], "padding": 0}, "axis": null},
           "color": {"field": "g", "type": "nominal", "scale": {"domain": ["S","C","F"], "range": ["#e4203a","#2b8a32","#5a8fd3"]}, "legend": null},
           "strokeDash": {"field": "k", "type": "nominal", "scale": {"domain": ["Standard","Deviant"], "range": [[1, 0], [13.5, 22.5]]}, "legend": null}
         }},
        {"data": {"values": [
           {"g": "S", "n": "Singing intervention"},
           {"g": "C", "n": "Control"},
           {"g": "F", "n": "Full-term"}
         ]},
         "mark": {"type": "text", "fontSize": 50, "fontWeight": "bold", "align": "left", "baseline": "middle", "dx": 97, "color": "#000000"},
         "encoding": {
           "x": {"datum": "Deviant", "type": "nominal", "scale": {"type": "point", "domain": ["Standard","Deviant"], "range": [120, 364], "padding": 0}, "axis": null},
           "y": {"field": "g", "type": "nominal", "scale": {"type": "point", "domain": ["S","C","F"], "range": [98, 241], "padding": 0}, "axis": null},
           "text": {"field": "n"}
         }}
      ]
    }
  ]
}
